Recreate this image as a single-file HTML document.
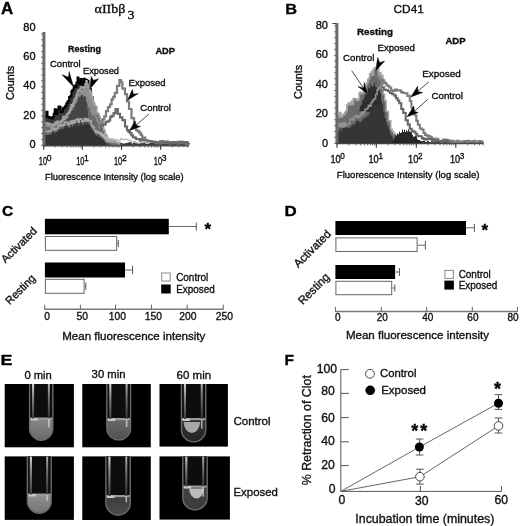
<!DOCTYPE html>
<html><head><meta charset="utf-8"><style>
html,body{margin:0;padding:0;background:#fff;}
svg{display:block;}
</style></head><body>
<svg width="520" height="526" viewBox="0 0 520 526" style="font-family:&quot;Liberation Sans&quot;,sans-serif">
<defs><filter id="gb" x="0" y="0" width="520" height="526" filterUnits="userSpaceOnUse"><feGaussianBlur stdDeviation="0.3"/></filter></defs>
<rect width="520" height="526" fill="#fff"/>
<g filter="url(#gb)">
<text x="1.0" y="13.8" font-size="16" font-weight="bold" fill="#000" stroke="#000" stroke-width="0.35" textLength="12.2" lengthAdjust="spacingAndGlyphs">A</text>
<text x="94.6" y="13.3" font-size="12.6" font-family="&quot;Liberation Serif&quot;, serif" fill="#111" stroke="#111" stroke-width="0.35" textLength="30.8" lengthAdjust="spacingAndGlyphs">αIIbβ</text>
<text x="127.5" y="18.8" font-size="12.6" font-family="&quot;Liberation Serif&quot;, serif" fill="#111" stroke="#111" stroke-width="0.35" textLength="7" lengthAdjust="spacingAndGlyphs">3</text>
<path d="M44.0,142.1 L45.5,142.1 L45.5,143.5 L47.0,143.5 L47.0,143.3 L48.5,143.3 L48.5,142.3 L50.0,142.3 L50.0,142.8 L51.6,142.8 L51.6,142.7 L53.1,142.7 L53.1,143.1 L54.6,143.1 L54.6,143.4 L56.1,143.4 L56.1,142.0 L57.6,142.0 L57.6,141.9 L59.1,141.9 L59.1,143.5 L60.6,143.5 L60.6,142.7 L62.1,142.7 L62.1,143.3 L63.6,143.3 L63.6,141.8 L65.1,141.8 L65.1,142.7 L66.7,142.7 L66.7,143.2 L68.2,143.2 L68.2,142.3 L69.7,142.3 L69.7,143.7 L71.2,143.7 L71.2,143.6 L72.7,143.6 L72.7,141.9 L74.2,141.9 L74.2,141.9 L75.7,141.9 L75.7,142.9 L77.2,142.9 L77.2,143.7 L78.7,143.7 L78.7,142.6 L80.2,142.6 L80.2,142.2 L81.8,142.2 L81.8,142.6 L83.3,142.6 L83.3,141.9 L84.8,141.9 L84.8,142.2 L86.3,142.2 L86.3,142.7 L87.8,142.7 L87.8,142.8 L89.3,142.8 L89.3,142.3 L90.8,142.3 L90.8,142.3 L92.3,142.3 L92.3,142.2 L93.8,142.2 L93.8,142.7 L95.4,142.7 L95.4,142.4 L96.9,142.4 L96.9,141.8 L98.4,141.8 L98.4,143.5 L99.9,143.5 L99.9,142.9 L101.4,142.9 L101.4,143.1 L102.9,143.1 L102.9,142.2 L104.4,142.2 L104.4,143.8 L105.9,143.8 L105.9,143.5 L107.4,143.5 L107.4,142.0 L108.9,142.0 L108.9,142.5 L110.5,142.5 L110.5,143.2 L112.0,143.2 L112.0,143.2 L113.5,143.2 L113.5,143.7 L115.0,143.7 L115.0,142.6 L116.5,142.6 L116.5,143.5 L118.0,143.5 L118.0,143.1 L119.5,143.1 L119.5,142.4 L121.0,142.4 L121.0,143.0 L122.5,143.0 L122.5,143.6 L124.1,143.6 L124.1,143.5 L125.6,143.5 L125.6,142.8 L127.1,142.8 L127.1,143.0 L128.6,143.0 L128.6,141.9 L130.1,141.9 L130.1,142.3 L131.6,142.3 L131.6,143.4 L133.1,143.4 L133.1,142.6 L134.6,142.6 L134.6,142.1 L136.1,142.1 L136.1,142.9 L137.6,142.9 L137.6,143.2 L139.2,143.2 L139.2,143.1 L140.7,143.1 L140.7,142.5 L142.2,142.5 L142.2,142.7 L143.7,142.7 L143.7,142.8 L145.2,142.8 L145.2,143.4 L146.7,143.4 L146.7,142.8 L148.2,142.8 L148.2,142.6 L149.7,142.6 L149.7,142.8 L151.2,142.8 L151.2,141.9 L152.8,141.9 L152.8,141.9 L154.3,141.9 L154.3,143.2 L155.8,143.2 L155.8,143.8 L157.3,143.8 L157.3,143.0 L158.8,143.0 L158.8,142.6 L160.3,142.6 L160.3,142.1 L161.8,142.1 L161.8,142.8 L163.3,142.8 L163.3,143.8 L164.8,143.8 L164.8,143.3 L166.3,143.3 L166.3,142.9 L167.9,142.9 L167.9,143.5 L169.4,143.5 L169.4,142.3 L170.9,142.3 L170.9,142.8 L172.4,142.8 L172.4,143.7 L173.9,143.7 L173.9,143.0 L175.4,143.0 L175.4,142.7 L176.9,142.7 L176.9,142.3 L178.4,142.3 L178.4,142.9 L179.9,142.9 L179.9,143.7 L181.4,143.7 L181.4,141.8 L183.0,141.8 L183.0,143.4 L184.5,143.4 L184.5,143.4 L186.0,143.4 L186.0,143.6 L187.5,143.6 L187.5,143.3 L189.0,143.3 L189.0,142.8 L189.0,145.8 L44.0,145.8 Z" fill="#3a3a3a" stroke="none" stroke-width="1" stroke-linejoin="miter"/>
<path d="M44.5,116.4 L46.3,116.4 L46.3,111.8 L47.5,111.8 L47.5,116.8 L48.6,116.8 L48.6,116.9 L49.6,116.9 L49.6,117.9 L50.6,117.9 L50.6,117.7 L51.6,117.7 L51.6,118.5 L52.6,118.5 L52.6,117.0 L53.7,117.0 L53.7,113.7 L54.7,113.7 L54.7,109.3 L56.2,109.3 L56.2,114.0 L57.4,114.0 L57.4,110.1 L58.5,110.1 L58.5,106.5 L59.6,106.5 L59.6,107.0 L60.7,107.0 L60.7,112.0 L61.9,112.0 L61.9,111.5 L63.0,111.5 L63.0,108.3 L64.2,108.3 L64.2,107.4 L65.3,107.4 L65.3,105.7 L66.4,105.7 L66.4,103.2 L67.6,103.2 L67.6,101.2 L69.1,101.2 L69.1,96.9 L70.2,96.9 L70.2,96.3 L71.4,96.3 L71.4,91.3 L72.5,91.3 L72.5,89.7 L73.7,89.7 L73.7,87.2 L74.5,87.2 L74.5,85.6 L75.5,85.6 L75.5,86.9 L76.5,86.9 L76.5,82.7 L77.5,82.7 L77.5,77.5 L78.5,77.5 L78.5,82.2 L79.5,82.2 L79.5,84.0 L80.6,84.0 L80.6,78.9 L81.6,78.9 L81.6,83.2 L82.6,83.2 L82.6,85.3 L83.7,85.3 L83.7,78.8 L84.7,78.8 L84.7,83.6 L85.9,83.6 L85.9,79.7 L86.8,79.7 L86.8,85.7 L87.6,85.7 L87.6,80.8 L88.5,80.8 L88.5,86.9 L89.7,86.9 L89.7,89.3 L91.0,89.3 L91.0,97.3 L92.7,97.3 L92.7,107.6 L93.8,107.6 L93.8,111.5 L95.0,111.5 L95.0,119.3 L96.2,119.3 L96.2,124.3 L97.3,124.3 L97.3,130.8 L98.4,130.8 L98.4,134.0 L99.6,134.0 L99.6,138.0 L100.7,138.0 L100.7,139.3 L101.8,139.3 L101.8,140.7 L102.8,140.7 L102.8,141.2 L103.9,141.2 L103.9,141.2 L105.0,141.2 L105.0,143.3 L106.0,143.3 L106.0,143.5 L106.0,145.3 L44.5,145.3 Z" fill="#383838" stroke="none" stroke-width="1" stroke-linejoin="miter"/>
<path d="M44.5,116.4 L46.3,116.4 L46.3,111.8 L47.5,111.8 L47.5,116.8 L48.6,116.8 L48.6,116.9 L49.6,116.9 L49.6,117.9 L50.6,117.9 L50.6,117.7 L51.6,117.7 L51.6,118.5 L52.6,118.5 L52.6,117.0 L53.7,117.0 L53.7,113.7 L54.7,113.7 L54.7,109.3 L56.2,109.3 L56.2,114.0 L57.4,114.0 L57.4,110.1 L58.5,110.1 L58.5,106.5 L59.6,106.5 L59.6,107.0 L60.7,107.0 L60.7,112.0 L61.9,112.0 L61.9,111.5 L63.0,111.5 L63.0,108.3 L64.2,108.3 L64.2,107.4 L65.3,107.4 L65.3,105.7 L66.4,105.7 L66.4,103.2 L67.6,103.2 L67.6,101.2 L69.1,101.2 L69.1,96.9 L70.2,96.9 L70.2,96.3 L71.4,96.3 L71.4,91.3 L72.5,91.3 L72.5,89.7 L73.7,89.7 L73.7,87.2 L74.5,87.2 L74.5,85.6 L75.5,85.6 L75.5,86.9 L76.5,86.9 L76.5,82.7 L77.5,82.7 L77.5,77.5 L78.5,77.5 L78.5,82.2 L79.5,82.2 L79.5,84.0 L80.6,84.0 L80.6,78.9 L81.6,78.9 L81.6,83.2 L82.6,83.2 L82.6,85.3 L83.7,85.3 L83.7,78.8 L84.7,78.8 L84.7,83.6 L85.9,83.6 L85.9,79.7 L86.8,79.7 L86.8,85.7 L87.6,85.7 L87.6,80.8 L88.5,80.8 L88.5,86.9 L89.7,86.9 L89.7,89.3 L91.0,89.3 L91.0,97.3 L92.7,97.3 L92.7,107.6 L93.8,107.6 L93.8,111.5 L95.0,111.5 L95.0,119.3 L96.2,119.3 L96.2,124.3 L97.3,124.3 L97.3,130.8 L98.4,130.8 L98.4,134.0 L99.6,134.0 L99.6,138.0 L100.7,138.0 L100.7,139.3 L101.8,139.3 L101.8,140.7 L102.8,140.7 L102.8,141.2 L103.9,141.2 L103.9,141.2 L105.0,141.2 L105.0,143.3 L106.0,143.3 L106.0,143.5" fill="none" stroke="#050505" stroke-width="2.0" stroke-linejoin="miter"/>
<path d="M44.5,122.9 L45.7,122.9 L45.7,123.4 L46.8,123.4 L46.8,122.9 L48.0,122.9 L48.0,124.8 L49.0,124.8 L49.0,123.6 L50.0,123.6 L50.0,124.4 L51.0,124.4 L51.0,124.7 L52.0,124.7 L52.0,124.2 L53.0,124.2 L53.0,125.4 L54.0,125.4 L54.0,124.6 L55.0,124.6 L55.0,122.5 L56.0,122.5 L56.0,123.2 L57.0,123.2 L57.0,121.4 L58.0,121.4 L58.0,121.9 L59.0,121.9 L59.0,122.4 L60.0,122.4 L60.0,122.0 L61.0,122.0 L61.0,121.0 L62.0,121.0 L62.0,120.5 L63.0,120.5 L63.0,116.2 L64.0,116.2 L64.0,119.1 L65.0,119.1 L65.0,117.1 L66.0,117.1 L66.0,115.5 L67.0,115.5 L67.0,113.9 L68.0,113.9 L68.0,113.2 L69.0,113.2 L69.0,111.4 L70.0,111.4 L70.0,109.9 L71.0,109.9 L71.0,104.7 L72.0,104.7 L72.0,106.1 L73.0,106.1 L73.0,102.8 L74.0,102.8 L74.0,99.6 L75.0,99.6 L75.0,98.2 L76.0,98.2 L76.0,95.0 L77.0,95.0 L77.0,92.5 L78.0,92.5 L78.0,90.1 L79.0,90.1 L79.0,91.3 L80.0,91.3 L80.0,88.2 L81.0,88.2 L81.0,86.9 L82.0,86.9 L82.0,86.9 L83.0,86.9 L83.0,87.8 L84.0,87.8 L84.0,87.2 L85.0,87.2 L85.0,84.0 L86.0,84.0 L86.0,80.9 L87.0,80.9 L87.0,84.0 L88.0,84.0 L88.0,86.9 L89.7,86.9 L89.7,90.9 L90.7,90.9 L90.7,93.0 L91.7,93.0 L91.7,96.9 L92.7,96.9 L92.7,100.6 L93.7,100.6 L93.7,103.2 L94.8,103.2 L94.8,105.5 L95.8,105.5 L95.8,106.8 L96.9,106.8 L96.9,113.0 L98.0,113.0 L98.0,113.9 L99.2,113.9 L99.2,116.6 L100.3,116.6 L100.3,119.7 L101.4,119.7 L101.4,124.7 L102.6,124.7 L102.6,127.4 L103.8,127.4 L103.8,130.2 L105.0,130.2 L105.0,134.4 L106.0,134.4 L106.0,135.1 L107.0,135.1 L107.0,137.6 L108.0,137.6 L108.0,138.7 L109.0,138.7 L109.0,139.4 L110.0,139.4 L110.0,139.9 L111.0,139.9 L111.0,139.5 L112.0,139.5 L112.0,142.4 L113.0,142.4 L113.0,141.8 L114.0,141.8 L114.0,140.0 L115.0,140.0 L115.0,141.5 L116.0,141.5 L116.0,142.5 L117.0,142.5 L117.0,142.9 L118.0,142.9 L118.0,142.4 L119.0,142.4 L119.0,143.7 L120.0,143.7 L120.0,143.5 L120.0,145.3 L44.5,145.3 Z" fill="#6a6a6a" stroke="none" stroke-width="1" stroke-linejoin="miter"/>
<path d="M64.0,120.0 L65.3,120.0 L65.3,117.6 L66.7,117.6 L66.7,116.6 L68.0,116.6 L68.0,113.8 L69.3,113.8 L69.3,111.1 L70.7,111.1 L70.7,110.0 L72.0,110.0 L72.0,109.5 L73.5,109.5 L73.5,106.1 L75.0,106.1 L75.0,103.0 L76.5,103.0 L76.5,99.0 L78.0,99.0 L78.0,98.1 L79.5,98.1 L79.5,96.2 L81.0,96.2 L81.0,94.8 L82.5,94.8 L82.5,95.1 L84.0,95.1 L84.0,96.0 L86.0,96.0 L86.0,102.5 L87.0,102.5 L87.0,109.2 L88.0,109.2 L88.0,117.1 L89.0,117.1 L89.0,122.1 L87.7,122.1 L87.7,120.1 L86.4,120.1 L86.4,120.7 L85.1,120.7 L85.1,122.1 L83.8,122.1 L83.8,122.6 L82.5,122.6 L82.5,123.3 L81.2,123.3 L81.2,123.6 L79.9,123.6 L79.9,120.9 L78.6,120.9 L78.6,123.0 L77.3,123.0 L77.3,123.4 L76.0,123.4 L76.0,123.0 Z" fill="#444" stroke="none" stroke-width="1" stroke-linejoin="miter"/>
<path d="M79.0,91.8 L80.0,91.8 L80.0,90.3 L81.0,90.3 L81.0,90.2 L82.0,90.2 L82.0,89.1 L83.0,89.1 L83.0,88.8 L84.0,88.8 L84.0,88.2 L85.0,88.2 L85.0,87.7 L86.0,87.7 L86.0,84.6 L87.0,84.6 L87.0,86.3 L88.0,86.3 L88.0,85.5 L89.0,85.5 L89.0,88.6 L90.0,88.6 L90.0,92.7 L91.0,92.7 L91.0,96.0 L92.0,96.0 L92.0,98.3 L93.0,98.3 L93.0,101.7 L94.0,101.7 L94.0,106.4 L95.0,106.4 L95.0,108.6 L96.0,108.6 L96.0,113.2 L95.0,113.2 L95.0,113.4 L94.0,113.4 L94.0,115.7 L93.0,115.7 L93.0,115.3 L92.0,115.3 L92.0,113.8 L91.0,113.8 L91.0,112.0 L90.0,112.0 L90.0,107.7 L89.0,107.7 L89.0,107.0 L88.0,107.0 L88.0,103.5 L87.0,103.5 L87.0,101.3 L86.0,101.3 L86.0,96.8 L85.0,96.8 L85.0,96.1 L84.0,96.1 L84.0,96.7 L83.0,96.7 L83.0,95.0 Z" fill="#8c8c8c" stroke="none" stroke-width="1" stroke-linejoin="miter"/>
<path d="M44.5,134.9 L45.7,134.9 L45.7,135.0 L47.0,135.0 L47.0,134.9 L48.2,134.9 L48.2,135.2 L49.4,135.2 L49.4,134.0 L50.6,134.0 L50.6,134.4 L51.9,134.4 L51.9,130.5 L53.1,130.5 L53.1,132.0 L54.3,132.0 L54.3,133.4 L55.5,133.4 L55.5,131.8 L56.8,131.8 L56.8,132.3 L58.0,132.3 L58.0,128.7 L59.2,128.7 L59.2,129.7 L60.5,129.7 L60.5,128.3 L61.7,128.3 L61.7,129.0 L63.0,129.0 L63.0,128.6 L64.3,128.6 L64.3,125.9 L65.5,125.9 L65.5,126.2 L66.8,126.2 L66.8,125.9 L68.1,125.9 L68.1,128.2 L69.3,128.2 L69.3,127.3 L70.6,127.3 L70.6,124.6 L71.9,124.6 L71.9,126.9 L73.1,126.9 L73.1,124.0 L74.4,124.0 L74.4,125.7 L75.6,125.7 L75.6,123.4 L76.8,123.4 L76.8,122.6 L78.1,122.6 L78.1,125.8 L79.3,125.8 L79.3,122.8 L80.5,122.8 L80.5,122.6 L81.7,122.6 L81.7,125.3 L82.9,125.3 L82.9,124.6 L84.2,124.6 L84.2,122.0 L85.4,122.0 L85.4,124.3 L86.6,124.3 L86.6,122.4 L88.2,122.4 L88.2,124.4 L89.7,124.4 L89.7,124.0 L91.2,124.0 L91.2,129.3 L92.7,129.3 L92.7,130.6 L94.2,130.6 L94.2,134.0 L95.8,134.0 L95.8,136.0 L97.3,136.0 L97.3,135.1 L98.8,135.1 L98.8,136.8 L100.3,136.8 L100.3,137.6 L101.8,137.6 L101.8,139.1 L103.2,139.1 L103.2,139.9 L104.6,139.9 L104.6,142.0 L106.0,142.0 L106.0,144.4 L107.2,144.4 L107.2,142.4 L108.4,142.4 L108.4,145.5 L109.6,145.5 L109.6,144.6 L110.8,144.6 L110.8,144.8 L112.0,144.8 L112.0,146.0 L112.0,145.3 L44.5,145.3 Z" fill="#333" stroke="none" stroke-width="1" stroke-linejoin="miter"/>
<path d="M44.5,131.4 L45.7,131.4 L45.7,131.5 L47.0,131.5 L47.0,131.4 L48.2,131.4 L48.2,131.7 L49.4,131.7 L49.4,130.5 L50.6,130.5 L50.6,130.9 L51.9,130.9 L51.9,127.0 L53.1,127.0 L53.1,128.5 L54.3,128.5 L54.3,129.9 L55.5,129.9 L55.5,128.3 L56.8,128.3 L56.8,128.8 L58.0,128.8 L58.0,125.2 L59.2,125.2 L59.2,126.2 L60.5,126.2 L60.5,124.8 L61.7,124.8 L61.7,125.5 L63.0,125.5 L63.0,125.1 L64.3,125.1 L64.3,122.4 L65.5,122.4 L65.5,122.7 L66.8,122.7 L66.8,122.4 L68.1,122.4 L68.1,124.7 L69.3,124.7 L69.3,123.8 L70.6,123.8 L70.6,121.1 L71.9,121.1 L71.9,123.4 L73.1,123.4 L73.1,120.5 L74.4,120.5 L74.4,122.2 L75.6,122.2 L75.6,119.9 L76.8,119.9 L76.8,119.1 L78.1,119.1 L78.1,122.3 L79.3,122.3 L79.3,119.3 L80.5,119.3 L80.5,119.1 L81.7,119.1 L81.7,121.8 L82.9,121.8 L82.9,121.1 L84.2,121.1 L84.2,118.5 L85.4,118.5 L85.4,120.8 L86.6,120.8 L86.6,118.9 L88.2,118.9 L88.2,120.9 L89.7,120.9 L89.7,120.5 L91.2,120.5 L91.2,125.8 L92.7,125.8 L92.7,127.1 L94.2,127.1 L94.2,130.5 L95.8,130.5 L95.8,132.5 L97.3,132.5 L97.3,131.6 L98.8,131.6 L98.8,133.3 L100.3,133.3 L100.3,134.1 L101.8,134.1 L101.8,135.6 L103.2,135.6 L103.2,136.4 L104.6,136.4 L104.6,138.5 L106.0,138.5 L106.0,140.9 L107.2,140.9 L107.2,138.9 L108.4,138.9 L108.4,142.0 L109.6,142.0 L109.6,141.1 L110.8,141.1 L110.8,141.3 L112.0,141.3 L112.0,142.5" fill="none" stroke="#a6a6a6" stroke-width="1.6" stroke-linejoin="miter"/>
<path d="M44.5,123.4 L45.6,123.4 L45.6,125.6 L46.7,125.6 L46.7,126.1 L47.8,126.1 L47.8,126.0 L48.9,126.0 L48.9,125.1 L50.0,125.1 L50.0,126.9 L51.0,126.9 L51.0,126.6 L52.0,126.6 L52.0,127.3 L53.0,127.3 L53.0,125.1 L54.0,125.1 L54.0,125.1 L55.0,125.1 L55.0,122.1 L56.0,122.1 L56.0,124.5 L57.0,124.5 L57.0,124.7 L58.0,124.7 L58.0,122.6 L59.0,122.6 L59.0,121.4 L60.0,121.4 L60.0,123.0 L61.0,123.0 L61.0,120.9 L62.0,120.9 L62.0,119.2 L63.0,119.2 L63.0,117.5 L64.0,117.5 L64.0,118.6 L65.0,118.6 L65.0,118.4 L66.0,118.4 L66.0,118.1 L67.0,118.1 L67.0,117.2 L68.0,117.2 L68.0,112.2 L69.0,112.2 L69.0,113.4 L70.0,113.4 L70.0,107.7 L71.0,107.7 L71.0,110.0 L72.0,110.0 L72.0,107.0 L73.0,107.0 L73.0,107.0 L74.0,107.0 L74.0,103.2 L75.0,103.2 L75.0,102.7 L76.0,102.7 L76.0,100.7 L77.0,100.7 L77.0,94.6 L78.0,94.6 L78.0,94.3 L79.0,94.3 L79.0,96.0 L80.0,96.0 L80.0,93.9 L81.0,93.9 L81.0,93.9 L82.0,93.9 L82.0,92.2 L83.0,92.2 L83.0,90.7 L84.0,90.7 L84.0,90.1 L85.0,90.1 L85.0,92.2 L86.0,92.2 L86.0,93.1 L87.0,93.1 L87.0,93.9 L88.0,93.9 L88.0,91.8 L89.0,91.8 L89.0,94.5 L90.0,94.5 L90.0,97.8 L91.0,97.8 L91.0,99.9 L92.0,99.9 L92.0,101.0 L93.0,101.0 L93.0,105.2 L94.0,105.2 L94.0,111.5 L95.0,111.5 L95.0,115.2 L96.0,115.2 L96.0,117.7 L97.0,117.7 L97.0,120.9 L98.0,120.9 L98.0,122.2 L99.0,122.2 L99.0,127.0 L100.0,127.0 L100.0,129.0" fill="none" stroke="#959595" stroke-width="1.2" stroke-linejoin="miter"/>
<path d="M44.5,122.9 L45.7,122.9 L45.7,123.4 L46.8,123.4 L46.8,122.9 L48.0,122.9 L48.0,124.8 L49.0,124.8 L49.0,123.6 L50.0,123.6 L50.0,124.4 L51.0,124.4 L51.0,124.7 L52.0,124.7 L52.0,124.2 L53.0,124.2 L53.0,125.4 L54.0,125.4 L54.0,124.6 L55.0,124.6 L55.0,122.5 L56.0,122.5 L56.0,123.2 L57.0,123.2 L57.0,121.4 L58.0,121.4 L58.0,121.9 L59.0,121.9 L59.0,122.4 L60.0,122.4 L60.0,122.0 L61.0,122.0 L61.0,121.0 L62.0,121.0 L62.0,120.5 L63.0,120.5 L63.0,116.2 L64.0,116.2 L64.0,119.1 L65.0,119.1 L65.0,117.1 L66.0,117.1 L66.0,115.5 L67.0,115.5 L67.0,113.9 L68.0,113.9 L68.0,113.2 L69.0,113.2 L69.0,111.4 L70.0,111.4 L70.0,109.9 L71.0,109.9 L71.0,104.7 L72.0,104.7 L72.0,106.1 L73.0,106.1 L73.0,102.8 L74.0,102.8 L74.0,99.6 L75.0,99.6 L75.0,98.2 L76.0,98.2 L76.0,95.0 L77.0,95.0 L77.0,92.5 L78.0,92.5 L78.0,90.1 L79.0,90.1 L79.0,91.3 L80.0,91.3 L80.0,88.2 L81.0,88.2 L81.0,86.9 L82.0,86.9 L82.0,86.9 L83.0,86.9 L83.0,87.8 L84.0,87.8 L84.0,87.2 L85.0,87.2 L85.0,84.0 L86.0,84.0 L86.0,80.9 L87.0,80.9 L87.0,84.0 L88.0,84.0 L88.0,86.9 L89.7,86.9 L89.7,90.9 L90.7,90.9 L90.7,93.0 L91.7,93.0 L91.7,96.9 L92.7,96.9 L92.7,100.6 L93.7,100.6 L93.7,103.2 L94.8,103.2 L94.8,105.5 L95.8,105.5 L95.8,106.8 L96.9,106.8 L96.9,113.0 L98.0,113.0 L98.0,113.9 L99.2,113.9 L99.2,116.6 L100.3,116.6 L100.3,119.7 L101.4,119.7 L101.4,124.7 L102.6,124.7 L102.6,127.4 L103.8,127.4 L103.8,130.2 L105.0,130.2 L105.0,134.4 L106.0,134.4 L106.0,135.1 L107.0,135.1 L107.0,137.6 L108.0,137.6 L108.0,138.7 L109.0,138.7 L109.0,139.4 L110.0,139.4 L110.0,139.9 L111.0,139.9 L111.0,139.5 L112.0,139.5 L112.0,142.4 L113.0,142.4 L113.0,141.8 L114.0,141.8 L114.0,140.0 L115.0,140.0 L115.0,141.5 L116.0,141.5 L116.0,142.5 L117.0,142.5 L117.0,142.9 L118.0,142.9 L118.0,142.4 L119.0,142.4 L119.0,143.7 L120.0,143.7 L120.0,143.5" fill="none" stroke="#a2a2a2" stroke-width="1.6" stroke-linejoin="miter"/>
<path d="M98.0,124.5 L100.0,124.5 L100.0,124.9 L102.6,124.9 L102.6,119.3 L104.3,119.3 L104.3,116.4 L106.0,116.4 L106.0,111.2 L108.0,111.2 L108.0,107.2 L110.0,107.2 L110.0,104.5 L111.6,104.5 L111.6,99.4 L113.2,99.4 L113.2,96.8 L114.8,96.8 L114.8,92.9 L117.0,92.9 L117.0,85.9 L119.4,85.9 L119.4,80.0 L121.0,80.0 L121.0,82.4 L122.4,82.4 L122.4,88.7 L125.0,88.7 L125.0,94.2 L127.0,94.2 L127.0,101.5 L129.0,101.5 L129.0,109.0 L131.5,109.0 L131.5,118.2 L134.0,118.2 L134.0,124.8 L136.0,124.8 L136.0,130.2 L137.6,130.2 L137.6,131.2 L139.1,131.2 L139.1,132.6 L140.7,132.6 L140.7,134.9 L142.2,134.9 L142.2,137.9 L143.7,137.9 L143.7,137.6 L145.2,137.6 L145.2,140.2 L146.8,140.2 L146.8,140.3 L148.4,140.3 L148.4,141.3 L150.0,141.3 L150.0,141.2 L151.7,141.2 L151.7,142.0 L153.3,142.0 L153.3,141.7 L155.0,141.7 L155.0,142.0 L156.7,142.0 L156.7,142.6 L158.3,142.6 L158.3,142.1 L160.0,142.1 L160.0,141.3 L161.5,141.3 L161.5,141.2 L163.1,141.2 L163.1,143.0 L164.6,143.0 L164.6,142.1 L166.1,142.1 L166.1,141.6 L167.6,141.6 L167.6,143.2 L169.2,143.2 L169.2,142.5 L170.7,142.5 L170.7,142.8 L172.2,142.8 L172.2,143.2 L173.7,143.2 L173.7,142.0 L175.3,142.0 L175.3,142.2 L176.8,142.2 L176.8,143.3 L178.3,143.3 L178.3,141.9 L179.8,141.9 L179.8,143.2 L181.4,143.2 L181.4,141.9 L182.9,141.9 L182.9,143.2 L184.4,143.2 L184.4,143.2 L185.9,143.2 L185.9,143.8 L187.5,143.8 L187.5,143.6 L189.0,143.6 L189.0,143.0" fill="none" stroke="#7c7c7c" stroke-width="2.2" stroke-linejoin="miter"/>
<path d="M99.0,129.9 L101.0,129.9 L101.0,126.0 L102.5,126.0 L102.5,124.4 L104.0,124.4 L104.0,124.7 L105.6,124.7 L105.6,121.9 L107.2,121.9 L107.2,121.7 L108.7,121.7 L108.7,120.5 L110.2,120.5 L110.2,116.9 L111.7,116.9 L111.7,115.8 L113.6,115.8 L113.6,113.1 L115.5,113.1 L115.5,109.1 L117.8,109.1 L117.8,113.8 L120.0,113.8 L120.0,117.4 L122.4,117.4 L122.4,120.1 L125.0,120.1 L125.0,126.5 L127.0,126.5 L127.0,130.2 L128.5,130.2 L128.5,131.9 L130.0,131.9 L130.0,133.1 L131.5,133.1 L131.5,135.4 L133.0,135.4 L133.0,137.3 L134.6,137.3 L134.6,137.6 L136.1,137.6 L136.1,139.0 L138.1,139.0 L138.1,139.1 L140.0,139.1 L140.0,140.7 L142.0,140.7 L142.0,140.2 L143.6,140.2 L143.6,140.9 L145.2,140.9 L145.2,141.9 L146.8,141.9 L146.8,142.4 L148.4,142.4 L148.4,142.0 L150.0,142.0 L150.0,141.7 L151.5,141.7 L151.5,142.1 L153.0,142.1 L153.0,142.0 L154.5,142.0 L154.5,142.1 L156.0,142.1 L156.0,143.2 L157.5,143.2 L157.5,142.0 L159.0,142.0 L159.0,143.4 L160.5,143.4 L160.5,143.4 L162.0,143.4 L162.0,141.8 L163.5,141.8 L163.5,142.4 L165.0,142.4 L165.0,142.7 L166.5,142.7 L166.5,141.8 L168.0,141.8 L168.0,142.6 L169.5,142.6 L169.5,143.6 L171.0,143.6 L171.0,142.0 L172.5,142.0 L172.5,143.0 L174.0,143.0 L174.0,142.1 L175.5,142.1 L175.5,143.0 L177.0,143.0 L177.0,143.6 L178.5,143.6 L178.5,142.3 L180.0,142.3 L180.0,141.9 L181.5,141.9 L181.5,142.1 L183.0,142.1 L183.0,143.0 L184.5,143.0 L184.5,142.0 L186.0,142.0 L186.0,142.1 L187.5,142.1 L187.5,143.0 L189.0,143.0 L189.0,143.0" fill="none" stroke="#6a6a6a" stroke-width="2.2" stroke-linejoin="miter"/>
<path d="M100.0,133.1 L102.0,133.1 L102.0,134.9 L104.0,134.9 L104.0,137.1 L105.5,137.1 L105.5,137.0 L107.0,137.0 L107.0,138.5 L108.5,138.5 L108.5,139.0 L110.0,139.0 L110.0,139.2 L111.5,139.2 L111.5,138.7 L113.0,138.7 L113.0,139.5 L114.5,139.5 L114.5,139.5 L116.0,139.5 L116.0,139.6 L117.5,139.6 L117.5,140.5 L119.0,140.5 L119.0,140.3 L120.5,140.3 L120.5,138.5 L122.0,138.5 L122.0,139.6 L123.5,139.6 L123.5,139.4 L125.0,139.4 L125.0,139.3 L126.5,139.3 L126.5,139.4 L128.0,139.4 L128.0,140.3 L129.5,140.3 L129.5,140.4 L131.0,140.4 L131.0,141.3 L132.5,141.3 L132.5,141.8 L134.0,141.8 L134.0,141.4 L135.5,141.4 L135.5,142.6 L137.0,142.6 L137.0,143.0 L138.5,143.0 L138.5,143.1 L140.0,143.1 L140.0,142.7 L141.7,142.7 L141.7,141.9 L143.3,141.9 L143.3,141.9 L145.0,141.9 L145.0,142.2 L146.7,142.2 L146.7,143.5 L148.3,143.5 L148.3,142.6 L150.0,142.6 L150.0,143.0" fill="none" stroke="#bdbdbd" stroke-width="1.2" stroke-linejoin="miter"/>
<rect x="42.4" y="32" width="3.0" height="114.30000000000001" fill="#6a6a6a"/>
<line x1="41" y1="145.3" x2="44" y2="145.3" stroke="#666" stroke-width="0.9"/>
<line x1="41" y1="139.44" x2="44" y2="139.44" stroke="#666" stroke-width="0.9"/>
<line x1="41" y1="133.58" x2="44" y2="133.58" stroke="#666" stroke-width="0.9"/>
<line x1="41" y1="127.72000000000001" x2="44" y2="127.72000000000001" stroke="#666" stroke-width="0.9"/>
<line x1="41" y1="121.86000000000001" x2="44" y2="121.86000000000001" stroke="#666" stroke-width="0.9"/>
<line x1="41" y1="116.00000000000001" x2="44" y2="116.00000000000001" stroke="#666" stroke-width="0.9"/>
<line x1="41" y1="110.14000000000001" x2="44" y2="110.14000000000001" stroke="#666" stroke-width="0.9"/>
<line x1="41" y1="104.28" x2="44" y2="104.28" stroke="#666" stroke-width="0.9"/>
<line x1="41" y1="98.42000000000002" x2="44" y2="98.42000000000002" stroke="#666" stroke-width="0.9"/>
<line x1="41" y1="92.56" x2="44" y2="92.56" stroke="#666" stroke-width="0.9"/>
<line x1="41" y1="86.70000000000002" x2="44" y2="86.70000000000002" stroke="#666" stroke-width="0.9"/>
<line x1="41" y1="80.84" x2="44" y2="80.84" stroke="#666" stroke-width="0.9"/>
<line x1="41" y1="74.98" x2="44" y2="74.98" stroke="#666" stroke-width="0.9"/>
<line x1="41" y1="69.12" x2="44" y2="69.12" stroke="#666" stroke-width="0.9"/>
<line x1="41" y1="63.260000000000005" x2="44" y2="63.260000000000005" stroke="#666" stroke-width="0.9"/>
<line x1="41" y1="57.400000000000006" x2="44" y2="57.400000000000006" stroke="#666" stroke-width="0.9"/>
<line x1="41" y1="51.540000000000006" x2="44" y2="51.540000000000006" stroke="#666" stroke-width="0.9"/>
<line x1="41" y1="45.68000000000001" x2="44" y2="45.68000000000001" stroke="#666" stroke-width="0.9"/>
<line x1="41" y1="39.82000000000001" x2="44" y2="39.82000000000001" stroke="#666" stroke-width="0.9"/>
<line x1="41" y1="33.96000000000001" x2="44" y2="33.96000000000001" stroke="#666" stroke-width="0.9"/>
<line x1="44" y1="145.8" x2="189" y2="145.8" stroke="#444" stroke-width="1.3"/>
<line x1="43.7" y1="145.3" x2="43.7" y2="149.8" stroke="#333" stroke-width="1.1"/>
<line x1="55.319757832629676" y1="145.3" x2="55.319757832629676" y2="147.5" stroke="#555" stroke-width="0.8"/>
<line x1="62.116880432178974" y1="145.3" x2="62.116880432178974" y2="147.5" stroke="#555" stroke-width="0.8"/>
<line x1="66.93951566525935" y1="145.3" x2="66.93951566525935" y2="147.5" stroke="#555" stroke-width="0.8"/>
<line x1="70.68024216737032" y1="145.3" x2="70.68024216737032" y2="147.5" stroke="#555" stroke-width="0.8"/>
<line x1="73.73663826480865" y1="145.3" x2="73.73663826480865" y2="147.5" stroke="#555" stroke-width="0.8"/>
<line x1="76.3207843445503" y1="145.3" x2="76.3207843445503" y2="147.5" stroke="#555" stroke-width="0.8"/>
<line x1="78.55927349788902" y1="145.3" x2="78.55927349788902" y2="147.5" stroke="#555" stroke-width="0.8"/>
<line x1="80.53376086435793" y1="145.3" x2="80.53376086435793" y2="147.5" stroke="#555" stroke-width="0.8"/>
<line x1="82.3" y1="145.3" x2="82.3" y2="149.8" stroke="#333" stroke-width="1.1"/>
<line x1="93.91975783262967" y1="145.3" x2="93.91975783262967" y2="147.5" stroke="#555" stroke-width="0.8"/>
<line x1="100.71688043217897" y1="145.3" x2="100.71688043217897" y2="147.5" stroke="#555" stroke-width="0.8"/>
<line x1="105.53951566525934" y1="145.3" x2="105.53951566525934" y2="147.5" stroke="#555" stroke-width="0.8"/>
<line x1="109.28024216737032" y1="145.3" x2="109.28024216737032" y2="147.5" stroke="#555" stroke-width="0.8"/>
<line x1="112.33663826480864" y1="145.3" x2="112.33663826480864" y2="147.5" stroke="#555" stroke-width="0.8"/>
<line x1="114.9207843445503" y1="145.3" x2="114.9207843445503" y2="147.5" stroke="#555" stroke-width="0.8"/>
<line x1="117.15927349788902" y1="145.3" x2="117.15927349788902" y2="147.5" stroke="#555" stroke-width="0.8"/>
<line x1="119.13376086435792" y1="145.3" x2="119.13376086435792" y2="147.5" stroke="#555" stroke-width="0.8"/>
<line x1="121.5" y1="145.3" x2="121.5" y2="149.8" stroke="#333" stroke-width="1.1"/>
<line x1="133.11975783262966" y1="145.3" x2="133.11975783262966" y2="147.5" stroke="#555" stroke-width="0.8"/>
<line x1="139.91688043217897" y1="145.3" x2="139.91688043217897" y2="147.5" stroke="#555" stroke-width="0.8"/>
<line x1="144.73951566525935" y1="145.3" x2="144.73951566525935" y2="147.5" stroke="#555" stroke-width="0.8"/>
<line x1="148.48024216737033" y1="145.3" x2="148.48024216737033" y2="147.5" stroke="#555" stroke-width="0.8"/>
<line x1="151.53663826480863" y1="145.3" x2="151.53663826480863" y2="147.5" stroke="#555" stroke-width="0.8"/>
<line x1="154.12078434455032" y1="145.3" x2="154.12078434455032" y2="147.5" stroke="#555" stroke-width="0.8"/>
<line x1="156.359273497889" y1="145.3" x2="156.359273497889" y2="147.5" stroke="#555" stroke-width="0.8"/>
<line x1="158.33376086435794" y1="145.3" x2="158.33376086435794" y2="147.5" stroke="#555" stroke-width="0.8"/>
<line x1="160.7" y1="145.3" x2="160.7" y2="149.8" stroke="#333" stroke-width="1.1"/>
<line x1="172.31975783262965" y1="145.3" x2="172.31975783262965" y2="147.5" stroke="#555" stroke-width="0.8"/>
<line x1="179.11688043217896" y1="145.3" x2="179.11688043217896" y2="147.5" stroke="#555" stroke-width="0.8"/>
<line x1="183.93951566525934" y1="145.3" x2="183.93951566525934" y2="147.5" stroke="#555" stroke-width="0.8"/>
<line x1="187.68024216737032" y1="145.3" x2="187.68024216737032" y2="147.5" stroke="#555" stroke-width="0.8"/>
<text x="35.6" y="30.6" font-size="11" text-anchor="end" fill="#111" stroke="#111" stroke-width="0.35">80</text>
<text x="35.6" y="59.9" font-size="11" text-anchor="end" fill="#111" stroke="#111" stroke-width="0.35">60</text>
<text x="35.6" y="89.2" font-size="11" text-anchor="end" fill="#111" stroke="#111" stroke-width="0.35">40</text>
<text x="35.6" y="118.5" font-size="11" text-anchor="end" fill="#111" stroke="#111" stroke-width="0.35">20</text>
<text x="35.6" y="147.8" font-size="11" text-anchor="end" fill="#111" stroke="#111" stroke-width="0.35">0</text>
<text x="38.8" y="165" font-size="10" fill="#111" stroke="#111" stroke-width="0.35" textLength="8.2" lengthAdjust="spacingAndGlyphs">10</text>
<text x="46.7" y="161.3" font-size="8.5" fill="#111" stroke="#111" stroke-width="0.35">0</text>
<text x="76.2" y="165" font-size="10" fill="#111" stroke="#111" stroke-width="0.35" textLength="8.2" lengthAdjust="spacingAndGlyphs">10</text>
<text x="84.10000000000001" y="161.3" font-size="8.5" fill="#111" stroke="#111" stroke-width="0.35">1</text>
<text x="114" y="165" font-size="10" fill="#111" stroke="#111" stroke-width="0.35" textLength="8.2" lengthAdjust="spacingAndGlyphs">10</text>
<text x="121.9" y="161.3" font-size="8.5" fill="#111" stroke="#111" stroke-width="0.35">2</text>
<text x="153.8" y="165" font-size="10" fill="#111" stroke="#111" stroke-width="0.35" textLength="8.2" lengthAdjust="spacingAndGlyphs">10</text>
<text x="161.7" y="161.3" font-size="8.5" fill="#111" stroke="#111" stroke-width="0.35">3</text>
<text transform="translate(14.2,83) rotate(-90)" font-size="10.8" text-anchor="middle" fill="#111" stroke="#111" stroke-width="0.35">Counts</text>
<text x="68" y="52.2" font-size="9" font-weight="bold" fill="#111" stroke="#111" stroke-width="0.35">Resting</text>
<text x="155.4" y="53.9" font-size="9.3" font-weight="bold" fill="#111" stroke="#111" stroke-width="0.35">ADP</text>
<text x="50" y="66.6" font-size="9.5" fill="#111" stroke="#111" stroke-width="0.35">Control</text>
<text x="83" y="74.2" font-size="9.25" fill="#111" stroke="#111" stroke-width="0.35">Exposed</text>
<text x="128.6" y="85.8" font-size="9.5" fill="#111" stroke="#111" stroke-width="0.35">Exposed</text>
<text x="140.3" y="111" font-size="9.5" fill="#111" stroke="#111" stroke-width="0.35">Control</text>
<text x="45.0" y="180.3" font-size="9.3" fill="#111" stroke="#111" stroke-width="0.35">Fluorescence Intensity (log scale)</text>
<path d="M73.5,86.8 L62,74.8 L68.6,77.2 L69.1,71.5 Z" fill="#000" stroke="#000" stroke-width="0.5" stroke-linejoin="round"/>
<path d="M89.9,89 L91.2,76.4 L93.4,80.4 L98.5,78.8 Z" fill="#000" stroke="#000" stroke-width="0.5" stroke-linejoin="round"/>
<path d="M127.6,100.2 L132.4,89.6 L133.3,94.2 L138.2,93.6 Z" fill="#000" stroke="#000" stroke-width="0.5" stroke-linejoin="round"/>
<line x1="149" y1="114" x2="135.5" y2="125.6" stroke="#222" stroke-width="0.8"/>
<path d="M129.5,130.6 L135.2,121 L135.9,125.4 L140.5,126.4 Z" fill="#000" stroke="#000" stroke-width="0.5" stroke-linejoin="round"/>
<text x="285.2" y="13.8" font-size="15.5" font-weight="bold" fill="#000" stroke="#000" stroke-width="0.35" textLength="11.8" lengthAdjust="spacingAndGlyphs">B</text>
<text x="393.6" y="13.1" font-size="11.8" fill="#111" stroke="#111" stroke-width="0.35">CD41</text>
<path d="M337.0,140.9 L339.0,140.9 L339.0,141.1 L341.0,141.1 L341.0,141.7 L343.0,141.7 L343.0,141.0 L345.0,141.0 L345.0,141.0 L347.0,141.0 L347.0,141.2 L349.0,141.2 L349.0,140.5 L351.0,140.5 L351.0,141.1 L353.0,141.1 L353.0,141.3 L355.0,141.3 L355.0,141.5 L357.0,141.5 L357.0,140.4 L359.0,140.4 L359.0,140.8 L361.0,140.8 L361.0,140.4 L363.0,140.4 L363.0,141.6 L365.0,141.6 L365.0,141.4 L367.0,141.4 L367.0,140.4 L369.0,140.4 L369.0,141.9 L371.0,141.9 L371.0,141.9 L373.0,141.9 L373.0,141.4 L375.0,141.4 L375.0,141.3 L377.0,141.3 L377.0,140.6 L379.0,140.6 L379.0,140.4 L381.0,140.4 L381.0,141.2 L383.0,141.2 L383.0,140.5 L385.0,140.5 L385.0,140.7 L387.0,140.7 L387.0,140.8 L389.0,140.8 L389.0,140.4 L391.0,140.4 L391.0,141.1 L393.0,141.1 L393.0,141.1 L395.0,141.1 L395.0,141.7 L397.0,141.7 L397.0,141.2 L399.0,141.2 L399.0,141.4 L401.0,141.4 L401.0,141.2 L403.0,141.2 L403.0,141.5 L405.0,141.5 L405.0,141.2 L407.0,141.2 L407.0,140.9 L409.0,140.9 L409.0,142.0 L411.0,142.0 L411.0,142.0 L413.0,142.0 L413.0,141.8 L415.0,141.8 L415.0,141.6 L417.0,141.6 L417.0,141.0 L419.0,141.0 L419.0,140.8 L421.0,140.8 L421.0,141.0 L423.0,141.0 L423.0,140.6 L425.0,140.6 L425.0,141.7 L427.0,141.7 L427.0,141.1 L429.0,141.1 L429.0,141.9 L431.0,141.9 L431.0,141.1 L433.0,141.1 L433.0,142.1 L435.0,142.1 L435.0,141.9 L437.0,141.9 L437.0,140.5 L439.0,140.5 L439.0,140.9 L441.0,140.9 L441.0,142.0 L443.0,142.0 L443.0,141.3 L445.0,141.3 L445.0,142.1 L447.0,142.1 L447.0,141.2 L449.0,141.2 L449.0,140.7 L451.0,140.7 L451.0,141.6 L453.0,141.6 L453.0,141.8 L455.0,141.8 L455.0,141.0 L457.0,141.0 L457.0,140.8 L459.0,140.8 L459.0,141.1 L461.0,141.1 L461.0,142.2 L463.0,142.2 L463.0,141.8 L465.0,141.8 L465.0,140.8 L467.0,140.8 L467.0,141.0 L469.0,141.0 L469.0,140.8 L471.0,140.8 L471.0,140.8 L473.0,140.8 L473.0,141.9 L475.0,141.9 L475.0,141.0 L477.0,141.0 L477.0,141.6 L479.0,141.6 L479.0,141.4 L481.0,141.4 L481.0,141.0 L483.0,141.0 L483.0,141.5 L483.0,143.7 L337.0,143.7 Z" fill="#3a3a3a" stroke="none" stroke-width="1" stroke-linejoin="miter"/>
<path d="M337.5,118.2 L338.5,118.2 L338.5,116.1 L339.5,116.1 L339.5,112.6 L340.6,112.6 L340.6,117.1 L341.6,117.1 L341.6,116.3 L342.6,116.3 L342.6,115.0 L343.6,115.0 L343.6,114.5 L344.7,114.5 L344.7,112.6 L345.9,112.6 L345.9,110.9 L347.0,110.9 L347.0,105.1 L348.1,105.1 L348.1,103.3 L349.1,103.3 L349.1,103.1 L350.1,103.1 L350.1,104.6 L351.2,104.6 L351.2,101.4 L352.2,101.4 L352.2,104.3 L353.3,104.3 L353.3,98.7 L354.3,98.7 L354.3,99.0 L355.6,99.0 L355.6,99.4 L357.0,99.4 L357.0,100.5 L358.1,100.5 L358.1,99.4 L359.3,99.4 L359.3,92.6 L360.4,92.6 L360.4,93.0 L361.4,93.0 L361.4,93.6 L362.4,93.6 L362.4,93.0 L363.4,93.0 L363.4,90.0 L364.7,90.0 L364.7,87.8 L366.0,87.8 L366.0,84.4 L367.0,84.4 L367.0,82.4 L368.0,82.4 L368.0,79.4 L368.9,79.4 L368.9,78.3 L369.8,78.3 L369.8,73.8 L370.7,73.8 L370.7,73.4 L371.6,73.4 L371.6,71.3 L372.5,71.3 L372.5,75.0 L373.5,75.0 L373.5,69.2 L374.6,69.2 L374.6,67.6 L375.6,67.6 L375.6,69.1 L376.6,69.1 L376.6,69.9 L377.6,69.9 L377.6,68.2 L378.6,68.2 L378.6,75.0 L379.6,75.0 L379.6,72.6 L380.7,72.6 L380.7,77.7 L381.7,77.7 L381.7,75.4 L382.7,75.4 L382.7,79.7 L383.7,79.7 L383.7,80.2 L384.7,80.2 L384.7,81.7 L381.7,88.6 L383.2,88.6 L383.2,94.3 L384.7,94.3 L384.7,100.5 L386.2,100.5 L386.2,111.5 L388.5,111.5 L388.5,120.8 L390.8,120.8 L390.8,129.3 L392.3,129.3 L392.3,131.8 L393.9,131.8 L393.9,133.7 L395.4,133.7 L395.4,135.1 L396.9,135.1 L396.9,135.7 L398.5,135.7 L398.5,137.5 L400.0,137.5 L400.0,140.0 L401.2,140.0 L401.2,138.5 L402.5,138.5 L402.5,139.3 L403.8,139.3 L403.8,140.8 L405.0,140.8 L405.0,140.1 L406.2,140.1 L406.2,140.0 L407.5,140.0 L407.5,140.5 L408.8,140.5 L408.8,142.0 L410.0,142.0 L410.0,141.5 L410.0,143.2 L337.5,143.2 Z" fill="#6a6a6a" stroke="none" stroke-width="1" stroke-linejoin="miter"/>
<path d="M358.0,111.3 L359.0,111.3 L359.0,109.6 L360.0,109.6 L360.0,106.1 L361.0,106.1 L361.0,104.6 L362.0,104.6 L362.0,100.6 L363.0,100.6 L363.0,99.7 L364.0,99.7 L364.0,97.1 L365.0,97.1 L365.0,94.0 L366.0,94.0 L366.0,95.0 L367.0,95.0 L367.0,92.8 L368.0,92.8 L368.0,87.3 L369.0,87.3 L369.0,88.6 L370.0,88.6 L370.0,84.6 L371.0,84.6 L371.0,86.6 L372.0,86.6 L372.0,86.6 L373.0,86.6 L373.0,85.7 L374.0,85.7 L374.0,82.8 L375.0,82.8 L375.0,86.8 L376.0,86.8 L376.0,87.4 L377.0,87.4 L377.0,90.1 L378.0,90.1 L378.0,91.2 L379.0,91.2 L379.0,90.1 L380.0,90.1 L380.0,93.3 L381.0,93.3 L381.0,100.8 L382.0,100.8 L382.0,107.7 L381.1,107.7 L381.1,108.1 L380.2,108.1 L380.2,106.9 L379.3,106.9 L379.3,109.5 L378.4,109.5 L378.4,109.4 L377.5,109.4 L377.5,109.9 L376.5,109.9 L376.5,109.6 L375.6,109.6 L375.6,110.7 L374.7,110.7 L374.7,108.1 L373.8,108.1 L373.8,109.5 L372.9,109.5 L372.9,109.7 L372.0,109.7 L372.0,112.0 Z" fill="#2e2e2e" stroke="none" stroke-width="1" stroke-linejoin="miter"/>
<path d="M337.5,131.2 L338.4,131.2 L338.4,132.1 L339.4,132.1 L339.4,127.8 L340.3,127.8 L340.3,128.5 L341.2,128.5 L341.2,131.0 L342.2,131.0 L342.2,126.5 L343.1,126.5 L343.1,127.0 L344.1,127.0 L344.1,127.9 L345.0,127.9 L345.0,127.6 L346.0,127.6 L346.0,127.1 L347.1,127.1 L347.1,128.3 L348.1,128.3 L348.1,128.0 L349.1,128.0 L349.1,127.3 L350.2,127.3 L350.2,127.4 L351.2,127.4 L351.2,125.1 L352.1,125.1 L352.1,124.0 L353.1,124.0 L353.1,125.9 L354.1,125.9 L354.1,124.1 L355.0,124.1 L355.0,123.8 L355.9,123.8 L355.9,120.4 L356.9,120.4 L356.9,121.1 L357.9,121.1 L357.9,120.8 L358.8,120.8 L358.8,122.0 L359.8,122.0 L359.8,122.4 L360.7,122.4 L360.7,121.2 L361.6,121.2 L361.6,120.4 L362.6,120.4 L362.6,118.9 L363.6,118.9 L363.6,118.5 L364.5,118.5 L364.5,117.2 L365.4,117.2 L365.4,117.9 L366.4,117.9 L366.4,115.7 L367.4,115.7 L367.4,116.6 L368.4,116.6 L368.4,114.4 L369.4,114.4 L369.4,112.3 L370.5,112.3 L370.5,112.1 L371.5,112.1 L371.5,109.1 L372.5,109.1 L372.5,105.8 L373.5,105.8 L373.5,106.0 L374.6,106.0 L374.6,106.7 L375.6,106.7 L375.6,104.7 L376.6,104.7 L376.6,105.1 L377.6,105.1 L377.6,105.8 L378.6,105.8 L378.6,104.2 L379.6,104.2 L379.6,103.8 L380.7,103.8 L380.7,103.7 L381.7,103.7 L381.7,103.5 L383.2,103.5 L383.2,111.4 L384.7,111.4 L384.7,118.1 L385.9,118.1 L385.9,122.2 L387.0,122.2 L387.0,125.5 L388.5,125.5 L388.5,128.4 L389.6,128.4 L389.6,133.5 L390.8,133.5 L390.8,135.5 L391.9,135.5 L391.9,136.8 L392.9,136.8 L392.9,141.0 L394.0,141.0 L394.0,141.5 L394.0,143.2 L337.5,143.2 Z" fill="#343434" stroke="none" stroke-width="1" stroke-linejoin="miter"/>
<path d="M337.5,127.9 L338.8,127.9 L338.8,123.5 L340.0,123.5 L340.0,126.4 L341.2,126.4 L341.2,123.6 L342.5,123.6 L342.5,127.0 L343.8,127.0 L343.8,122.5 L345.0,122.5 L345.0,126.1 L346.2,126.1 L346.2,124.3 L347.5,124.3 L347.5,124.1 L348.7,124.1 L348.7,123.8 L350.0,123.8 L350.0,119.6 L351.2,119.6 L351.2,119.1 L352.5,119.1 L352.5,119.9 L353.7,119.9 L353.7,117.3 L355.0,117.3 L355.0,116.5 L356.3,116.5 L356.3,115.5 L357.5,115.5 L357.5,117.5 L358.8,117.5 L358.8,116.8 L360.0,116.8 L360.0,115.6 L361.2,115.6 L361.2,112.2 L362.5,112.2 L362.5,114.4 L363.7,114.4 L363.7,111.7 L364.9,111.7 L364.9,109.5 L366.0,109.5 L366.0,109.3 L367.2,109.3 L367.2,108.0 L368.4,108.0 L368.4,105.3 L369.5,105.3 L369.5,106.3 L371.0,106.3 L371.0,102.4 L372.5,102.4 L372.5,100.3 L374.1,100.3 L374.1,98.8 L375.6,98.8 L375.6,94.5 L377.1,94.5 L377.1,89.7 L378.6,89.7 L378.6,87.9 L380.1,87.9 L380.1,86.2 L381.7,86.2 L381.7,81.7" fill="none" stroke="#929292" stroke-width="1.5" stroke-linejoin="miter"/>
<path d="M381.7,88.6 L383.2,88.6 L383.2,94.3 L384.7,94.3 L384.7,100.5 L386.2,100.5 L386.2,111.5 L388.5,111.5 L388.5,120.8 L390.8,120.8 L390.8,129.3 L392.3,129.3 L392.3,131.8 L393.9,131.8 L393.9,133.7 L395.4,133.7 L395.4,135.1 L396.9,135.1 L396.9,135.7 L398.5,135.7 L398.5,137.5 L400.0,137.5 L400.0,140.0 L401.2,140.0 L401.2,138.5 L402.5,138.5 L402.5,139.3 L403.8,139.3 L403.8,140.8 L405.0,140.8 L405.0,140.1 L406.2,140.1 L406.2,140.0 L407.5,140.0 L407.5,140.5 L408.8,140.5 L408.8,142.0 L410.0,142.0 L410.0,141.5" fill="none" stroke="#a8a8a8" stroke-width="1.4" stroke-linejoin="miter"/>
<path d="M337.5,118.2 L338.5,118.2 L338.5,116.1 L339.5,116.1 L339.5,112.6 L340.6,112.6 L340.6,117.1 L341.6,117.1 L341.6,116.3 L342.6,116.3 L342.6,115.0 L343.6,115.0 L343.6,114.5 L344.7,114.5 L344.7,112.6 L345.9,112.6 L345.9,110.9 L347.0,110.9 L347.0,105.1 L348.1,105.1 L348.1,103.3 L349.1,103.3 L349.1,103.1 L350.1,103.1 L350.1,104.6 L351.2,104.6 L351.2,101.4 L352.2,101.4 L352.2,104.3 L353.3,104.3 L353.3,98.7 L354.3,98.7 L354.3,99.0 L355.6,99.0 L355.6,99.4 L357.0,99.4 L357.0,100.5 L358.1,100.5 L358.1,99.4 L359.3,99.4 L359.3,92.6 L360.4,92.6 L360.4,93.0 L361.4,93.0 L361.4,93.6 L362.4,93.6 L362.4,93.0 L363.4,93.0 L363.4,90.0 L364.7,90.0 L364.7,87.8 L366.0,87.8 L366.0,84.4 L367.0,84.4 L367.0,82.4 L368.0,82.4 L368.0,79.4 L368.9,79.4 L368.9,78.3 L369.8,78.3 L369.8,73.8 L370.7,73.8 L370.7,73.4 L371.6,73.4 L371.6,71.3 L372.5,71.3 L372.5,75.0 L373.5,75.0 L373.5,69.2 L374.6,69.2 L374.6,67.6 L375.6,67.6 L375.6,69.1 L376.6,69.1 L376.6,69.9 L377.6,69.9 L377.6,68.2 L378.6,68.2 L378.6,75.0 L379.6,75.0 L379.6,72.6 L380.7,72.6 L380.7,77.7 L381.7,77.7 L381.7,75.4 L382.7,75.4 L382.7,79.7 L383.7,79.7 L383.7,80.2 L384.7,80.2 L384.7,81.7" fill="none" stroke="#a3a3a3" stroke-width="1.8" stroke-linejoin="miter"/>
<path d="M376.6,76.2 L378.3,76.2 L378.3,78.3 L380.0,78.3 L380.0,80.0 L381.6,80.0 L381.6,79.8 L383.1,79.8 L383.1,82.1 L384.7,82.1 L384.7,83.1 L386.4,83.1 L386.4,85.2 L388.0,85.2 L388.0,86.1 L389.6,86.1 L389.6,87.8 L391.2,87.8 L391.2,90.4 L393.1,90.4 L393.1,90.9 L395.0,90.9 L395.0,89.5 L397.1,89.5 L397.1,90.4 L399.3,90.4 L399.3,90.3 L401.1,90.3 L401.1,92.1 L403.0,92.1 L403.0,93.0 L405.2,93.0 L405.2,93.2 L407.4,93.2 L407.4,95.9 L409.8,95.9 L409.8,101.0 L411.4,101.0 L411.4,107.6 L413.0,107.6 L413.0,112.6 L414.6,112.6 L414.6,115.3 L416.3,115.3 L416.3,120.9 L417.9,120.9 L417.9,124.8 L419.8,124.8 L419.8,128.4 L421.6,128.4 L421.6,129.5 L423.5,129.5 L423.5,132.9 L425.1,132.9 L425.1,134.9 L426.8,134.9 L426.8,135.6 L428.4,135.6 L428.4,136.1 L430.0,136.1 L430.0,136.8 L431.7,136.8 L431.7,139.1 L433.3,139.1 L433.3,138.6 L435.0,138.6 L435.0,140.2 L436.7,140.2 L436.7,138.8 L438.3,138.8 L438.3,140.7 L440.0,140.7 L440.0,141.2 L441.5,141.2 L441.5,141.5 L443.1,141.5 L443.1,139.6 L444.6,139.6 L444.6,140.4 L446.2,140.4 L446.2,139.8 L447.7,139.8 L447.7,141.4 L449.2,141.4 L449.2,140.6 L450.8,140.6 L450.8,142.0 L452.3,142.0 L452.3,140.8 L453.8,140.8 L453.8,141.8 L455.4,141.8 L455.4,142.1 L456.9,142.1 L456.9,140.8 L458.5,140.8 L458.5,141.5 L460.0,141.5 L460.0,142.5 L461.5,142.5 L461.5,141.6 L463.1,141.6 L463.1,141.2 L464.6,141.2 L464.6,141.0 L466.1,141.0 L466.1,142.1 L467.7,142.1 L467.7,140.8 L469.2,140.8 L469.2,141.7 L470.7,141.7 L470.7,141.6 L472.3,141.6 L472.3,141.6 L473.8,141.6 L473.8,140.7 L475.3,140.7 L475.3,141.8 L476.9,141.8 L476.9,142.4 L478.4,142.4 L478.4,141.1 L479.9,141.1 L479.9,141.1 L481.5,141.1 L481.5,142.4 L483.0,142.4 L483.0,141.5" fill="none" stroke="#7e7e7e" stroke-width="2.1" stroke-linejoin="miter"/>
<path d="M382.0,87.3 L384.1,87.3 L384.1,89.7 L386.3,89.7 L386.3,90.3 L388.1,90.3 L388.1,91.2 L390.0,91.2 L390.0,93.0 L392.2,93.0 L392.2,94.3 L394.4,94.3 L394.4,95.6 L396.0,95.6 L396.0,98.2 L397.7,98.2 L397.7,100.5 L399.3,100.5 L399.3,103.2 L401.3,103.2 L401.3,109.0 L403.3,109.0 L403.3,113.0 L405.7,113.0 L405.7,120.3 L407.8,120.3 L407.8,124.6 L409.8,124.6 L409.8,128.8 L411.7,128.8 L411.7,131.1 L413.6,131.1 L413.6,131.7 L415.5,131.7 L415.5,133.8 L417.1,133.8 L417.1,135.7 L418.8,135.7 L418.8,136.2 L420.4,136.2 L420.4,136.2 L422.0,136.2 L422.0,138.1 L423.7,138.1 L423.7,139.0 L425.3,139.0 L425.3,139.4 L427.0,139.4 L427.0,138.5 L428.7,138.5 L428.7,139.1 L430.3,139.1 L430.3,138.9 L432.0,138.9 L432.0,141.5 L433.5,141.5 L433.5,140.0 L435.0,140.0 L435.0,141.2 L436.5,141.2 L436.5,140.8 L438.0,140.8 L438.0,141.0 L439.5,141.0 L439.5,141.0 L441.0,141.0 L441.0,141.7 L442.5,141.7 L442.5,141.3 L444.0,141.3 L444.0,140.7 L445.5,140.7 L445.5,140.4 L447.0,140.4 L447.0,141.3 L448.5,141.3 L448.5,142.3 L450.0,142.3 L450.0,141.5" fill="none" stroke="#666" stroke-width="2.1" stroke-linejoin="miter"/>
<path d="M392.0,141.8 L393.0,141.8 L393.0,140.0 L394.0,140.0 L394.0,138.3 L395.0,138.3 L395.0,135.2 L396.0,135.2 L396.0,135.7 L397.0,135.7 L397.0,133.4 L398.0,133.4 L398.0,134.2 L399.0,134.2 L399.0,131.8 L400.0,131.8 L400.0,132.9 L401.0,132.9 L401.0,132.4 L402.0,132.4 L402.0,129.6 L403.0,129.6 L403.0,132.1 L404.0,132.1 L404.0,129.4 L405.0,129.4 L405.0,131.9 L406.0,131.9 L406.0,130.2 L407.0,130.2 L407.0,131.4 L408.0,131.4 L408.0,129.5 L409.0,129.5 L409.0,131.6 L410.0,131.6 L410.0,132.1 L411.0,132.1 L411.0,132.2 L412.0,132.2 L412.0,135.0 L413.0,135.0 L413.0,136.7 L414.0,136.7 L414.0,136.5 L415.0,136.5 L415.0,135.4 L416.0,135.4 L416.0,136.6 L417.0,136.6 L417.0,139.2 L418.0,139.2 L418.0,140.1 L419.0,140.1 L419.0,140.0 L420.0,140.0 L420.0,141.8 L421.0,141.8 L421.0,142.0 L421.0,143.2 L392.0,143.2 Z" fill="#262626" stroke="none" stroke-width="1" stroke-linejoin="miter"/>
<rect x="335.4" y="23" width="3.0" height="121.19999999999999" fill="#6a6a6a"/>
<line x1="334" y1="143.2" x2="337" y2="143.2" stroke="#666" stroke-width="0.9"/>
<line x1="334" y1="137.33999999999997" x2="337" y2="137.33999999999997" stroke="#666" stroke-width="0.9"/>
<line x1="334" y1="131.48" x2="337" y2="131.48" stroke="#666" stroke-width="0.9"/>
<line x1="334" y1="125.61999999999999" x2="337" y2="125.61999999999999" stroke="#666" stroke-width="0.9"/>
<line x1="334" y1="119.75999999999999" x2="337" y2="119.75999999999999" stroke="#666" stroke-width="0.9"/>
<line x1="334" y1="113.89999999999999" x2="337" y2="113.89999999999999" stroke="#666" stroke-width="0.9"/>
<line x1="334" y1="108.03999999999999" x2="337" y2="108.03999999999999" stroke="#666" stroke-width="0.9"/>
<line x1="334" y1="102.17999999999998" x2="337" y2="102.17999999999998" stroke="#666" stroke-width="0.9"/>
<line x1="334" y1="96.32" x2="337" y2="96.32" stroke="#666" stroke-width="0.9"/>
<line x1="334" y1="90.45999999999998" x2="337" y2="90.45999999999998" stroke="#666" stroke-width="0.9"/>
<line x1="334" y1="84.6" x2="337" y2="84.6" stroke="#666" stroke-width="0.9"/>
<line x1="334" y1="78.73999999999998" x2="337" y2="78.73999999999998" stroke="#666" stroke-width="0.9"/>
<line x1="334" y1="72.87999999999998" x2="337" y2="72.87999999999998" stroke="#666" stroke-width="0.9"/>
<line x1="334" y1="67.01999999999998" x2="337" y2="67.01999999999998" stroke="#666" stroke-width="0.9"/>
<line x1="334" y1="61.15999999999998" x2="337" y2="61.15999999999998" stroke="#666" stroke-width="0.9"/>
<line x1="334" y1="55.29999999999998" x2="337" y2="55.29999999999998" stroke="#666" stroke-width="0.9"/>
<line x1="334" y1="49.43999999999998" x2="337" y2="49.43999999999998" stroke="#666" stroke-width="0.9"/>
<line x1="334" y1="43.579999999999984" x2="337" y2="43.579999999999984" stroke="#666" stroke-width="0.9"/>
<line x1="334" y1="37.719999999999985" x2="337" y2="37.719999999999985" stroke="#666" stroke-width="0.9"/>
<line x1="334" y1="31.859999999999985" x2="337" y2="31.859999999999985" stroke="#666" stroke-width="0.9"/>
<line x1="334" y1="25.999999999999986" x2="337" y2="25.999999999999986" stroke="#666" stroke-width="0.9"/>
<line x1="337" y1="143.7" x2="483.5" y2="143.7" stroke="#444" stroke-width="1.3"/>
<line x1="337" y1="143.2" x2="337" y2="147.7" stroke="#333" stroke-width="1.1"/>
<line x1="348.8304788295945" y1="143.2" x2="348.8304788295945" y2="145.39999999999998" stroke="#555" stroke-width="0.8"/>
<line x1="355.7508653104827" y1="143.2" x2="355.7508653104827" y2="145.39999999999998" stroke="#555" stroke-width="0.8"/>
<line x1="360.6609576591889" y1="143.2" x2="360.6609576591889" y2="145.39999999999998" stroke="#555" stroke-width="0.8"/>
<line x1="364.4695211704055" y1="143.2" x2="364.4695211704055" y2="145.39999999999998" stroke="#555" stroke-width="0.8"/>
<line x1="367.5813441400772" y1="143.2" x2="367.5813441400772" y2="145.39999999999998" stroke="#555" stroke-width="0.8"/>
<line x1="370.2123529725603" y1="143.2" x2="370.2123529725603" y2="145.39999999999998" stroke="#555" stroke-width="0.8"/>
<line x1="372.4914364887834" y1="143.2" x2="372.4914364887834" y2="145.39999999999998" stroke="#555" stroke-width="0.8"/>
<line x1="374.5017306209655" y1="143.2" x2="374.5017306209655" y2="145.39999999999998" stroke="#555" stroke-width="0.8"/>
<line x1="376.3" y1="143.2" x2="376.3" y2="147.7" stroke="#333" stroke-width="1.1"/>
<line x1="388.1304788295945" y1="143.2" x2="388.1304788295945" y2="145.39999999999998" stroke="#555" stroke-width="0.8"/>
<line x1="395.0508653104828" y1="143.2" x2="395.0508653104828" y2="145.39999999999998" stroke="#555" stroke-width="0.8"/>
<line x1="399.9609576591889" y1="143.2" x2="399.9609576591889" y2="145.39999999999998" stroke="#555" stroke-width="0.8"/>
<line x1="403.76952117040554" y1="143.2" x2="403.76952117040554" y2="145.39999999999998" stroke="#555" stroke-width="0.8"/>
<line x1="406.8813441400772" y1="143.2" x2="406.8813441400772" y2="145.39999999999998" stroke="#555" stroke-width="0.8"/>
<line x1="409.51235297256034" y1="143.2" x2="409.51235297256034" y2="145.39999999999998" stroke="#555" stroke-width="0.8"/>
<line x1="411.7914364887834" y1="143.2" x2="411.7914364887834" y2="145.39999999999998" stroke="#555" stroke-width="0.8"/>
<line x1="413.8017306209655" y1="143.2" x2="413.8017306209655" y2="145.39999999999998" stroke="#555" stroke-width="0.8"/>
<line x1="416.3" y1="143.2" x2="416.3" y2="147.7" stroke="#333" stroke-width="1.1"/>
<line x1="428.1304788295945" y1="143.2" x2="428.1304788295945" y2="145.39999999999998" stroke="#555" stroke-width="0.8"/>
<line x1="435.0508653104828" y1="143.2" x2="435.0508653104828" y2="145.39999999999998" stroke="#555" stroke-width="0.8"/>
<line x1="439.9609576591889" y1="143.2" x2="439.9609576591889" y2="145.39999999999998" stroke="#555" stroke-width="0.8"/>
<line x1="443.76952117040554" y1="143.2" x2="443.76952117040554" y2="145.39999999999998" stroke="#555" stroke-width="0.8"/>
<line x1="446.8813441400772" y1="143.2" x2="446.8813441400772" y2="145.39999999999998" stroke="#555" stroke-width="0.8"/>
<line x1="449.51235297256034" y1="143.2" x2="449.51235297256034" y2="145.39999999999998" stroke="#555" stroke-width="0.8"/>
<line x1="451.7914364887834" y1="143.2" x2="451.7914364887834" y2="145.39999999999998" stroke="#555" stroke-width="0.8"/>
<line x1="453.8017306209655" y1="143.2" x2="453.8017306209655" y2="145.39999999999998" stroke="#555" stroke-width="0.8"/>
<line x1="455.8" y1="143.2" x2="455.8" y2="147.7" stroke="#333" stroke-width="1.1"/>
<line x1="467.6304788295945" y1="143.2" x2="467.6304788295945" y2="145.39999999999998" stroke="#555" stroke-width="0.8"/>
<line x1="474.5508653104828" y1="143.2" x2="474.5508653104828" y2="145.39999999999998" stroke="#555" stroke-width="0.8"/>
<line x1="479.4609576591889" y1="143.2" x2="479.4609576591889" y2="145.39999999999998" stroke="#555" stroke-width="0.8"/>
<line x1="483.26952117040554" y1="143.2" x2="483.26952117040554" y2="145.39999999999998" stroke="#555" stroke-width="0.8"/>
<text x="328" y="28.6" font-size="11" text-anchor="end" fill="#111" stroke="#111" stroke-width="0.35">80</text>
<text x="328" y="58.1" font-size="11" text-anchor="end" fill="#111" stroke="#111" stroke-width="0.35">60</text>
<text x="328" y="87.7" font-size="11" text-anchor="end" fill="#111" stroke="#111" stroke-width="0.35">40</text>
<text x="328" y="117.3" font-size="11" text-anchor="end" fill="#111" stroke="#111" stroke-width="0.35">20</text>
<text x="328" y="146.9" font-size="11" text-anchor="end" fill="#111" stroke="#111" stroke-width="0.35">0</text>
<text x="330.4" y="162.7" font-size="10" fill="#111" stroke="#111" stroke-width="0.35" textLength="10.2" lengthAdjust="spacingAndGlyphs">10</text>
<text x="340.29999999999995" y="159.1" font-size="8.2" fill="#111" stroke="#111" stroke-width="0.35">0</text>
<text x="368.5" y="162.7" font-size="10" fill="#111" stroke="#111" stroke-width="0.35" textLength="10.2" lengthAdjust="spacingAndGlyphs">10</text>
<text x="378.4" y="159.1" font-size="8.2" fill="#111" stroke="#111" stroke-width="0.35">1</text>
<text x="408.1" y="162.7" font-size="10" fill="#111" stroke="#111" stroke-width="0.35" textLength="10.2" lengthAdjust="spacingAndGlyphs">10</text>
<text x="418.0" y="159.1" font-size="8.2" fill="#111" stroke="#111" stroke-width="0.35">2</text>
<text x="449.9" y="162.7" font-size="10" fill="#111" stroke="#111" stroke-width="0.35" textLength="10.2" lengthAdjust="spacingAndGlyphs">10</text>
<text x="459.79999999999995" y="159.1" font-size="8.2" fill="#111" stroke="#111" stroke-width="0.35">3</text>
<line x1="332.3" y1="23.5" x2="336" y2="23.5" stroke="#444" stroke-width="1"/>
<text transform="translate(302.4,82) rotate(-90)" font-size="10.8" text-anchor="middle" fill="#111" stroke="#111" stroke-width="0.35">Counts</text>
<text x="357" y="35.3" font-size="9.8" font-weight="bold" fill="#111" stroke="#111" stroke-width="0.35">Resting</text>
<text x="445.5" y="43.6" font-size="9.5" font-weight="bold" fill="#111" stroke="#111" stroke-width="0.35">ADP</text>
<text x="377.5" y="50.9" font-size="9.6" fill="#111" stroke="#111" stroke-width="0.35">Exposed</text>
<text x="343.0" y="60.9" font-size="9.75" fill="#111" stroke="#111" stroke-width="0.35">Control</text>
<text x="422.2" y="77.2" font-size="9.9" fill="#111" stroke="#111" stroke-width="0.35">Exposed</text>
<text x="431.4" y="98.5" font-size="9.8" fill="#111" stroke="#111" stroke-width="0.35">Control</text>
<text x="336.8" y="177.9" font-size="9.58" fill="#111" stroke="#111" stroke-width="0.35">Fluorescence Intensity (log scale)</text>
<line x1="351.7" y1="70.7" x2="363.5" y2="88" stroke="#222" stroke-width="0.8"/>
<path d="M367.1,93.3 L358,86.5 L363.9,88.2 L364.2,82.5 Z" fill="#000" stroke="#000" stroke-width="0.5" stroke-linejoin="round"/>
<path d="M375.8,70.7 L377.7,57.5 L379.7,62.7 L384.6,61.1 Z" fill="#000" stroke="#000" stroke-width="0.5" stroke-linejoin="round"/>
<line x1="429" y1="81.7" x2="417.6" y2="91.4" stroke="#222" stroke-width="0.8"/>
<path d="M410.9,96.9 L417.6,86.2 L417.8,91.6 L422.5,92.6 Z" fill="#000" stroke="#000" stroke-width="0.5" stroke-linejoin="round"/>
<line x1="428" y1="99.2" x2="414.3" y2="111.4" stroke="#222" stroke-width="0.8"/>
<path d="M407.1,116.8 L413.8,106.2 L414.4,111.6 L418.2,112.5 Z" fill="#000" stroke="#000" stroke-width="0.5" stroke-linejoin="round"/>
<text x="2.0" y="216.2" font-size="15.5" font-weight="bold" fill="#000" stroke="#000" stroke-width="0.35">C</text>
<rect x="44.9" y="218.8" width="123.9" height="15.5" fill="#000"/>
<rect x="45.4" y="236.5" width="71.30000000000001" height="13.800000000000011" fill="#fff" stroke="#666" stroke-width="1"/>
<rect x="44.9" y="262.5" width="80.1" height="15.0" fill="#000"/>
<rect x="45.4" y="279.3" width="38.699999999999996" height="14.0" fill="#fff" stroke="#666" stroke-width="1"/>
<line x1="168.8" y1="226.5" x2="196.3" y2="226.5" stroke="#555" stroke-width="0.9"/>
<line x1="196.3" y1="222.5" x2="196.3" y2="230.5" stroke="#555" stroke-width="1"/>
<line x1="117.2" y1="243.4" x2="118.3" y2="243.4" stroke="#555" stroke-width="0.9"/>
<line x1="118.3" y1="239.9" x2="118.3" y2="246.9" stroke="#555" stroke-width="1"/>
<line x1="125" y1="270" x2="132.6" y2="270" stroke="#555" stroke-width="0.9"/>
<line x1="132.6" y1="265.7" x2="132.6" y2="274.3" stroke="#555" stroke-width="1"/>
<line x1="84.6" y1="286.3" x2="85.8" y2="286.3" stroke="#555" stroke-width="0.9"/>
<line x1="85.8" y1="282.8" x2="85.8" y2="289.8" stroke="#555" stroke-width="1"/>
<line x1="44.7" y1="309.2" x2="223.3" y2="309.2" stroke="#7a7a7a" stroke-width="1.5"/>
<line x1="44.7" y1="304.7" x2="44.7" y2="309.7" stroke="#666" stroke-width="1"/>
<line x1="80.4" y1="304.7" x2="80.4" y2="309.7" stroke="#666" stroke-width="1"/>
<line x1="115.5" y1="304.7" x2="115.5" y2="309.7" stroke="#666" stroke-width="1"/>
<line x1="151.5" y1="304.7" x2="151.5" y2="309.7" stroke="#666" stroke-width="1"/>
<line x1="187.2" y1="304.7" x2="187.2" y2="309.7" stroke="#666" stroke-width="1"/>
<line x1="223.3" y1="304.7" x2="223.3" y2="309.7" stroke="#666" stroke-width="1"/>
<text x="47.1" y="320.4" font-size="10.3" text-anchor="middle" fill="#111" stroke="#111" stroke-width="0.35">0</text>
<text x="82.3" y="320.4" font-size="10.3" text-anchor="middle" fill="#111" stroke="#111" stroke-width="0.35">50</text>
<text x="117.3" y="320.4" font-size="10.3" text-anchor="middle" fill="#111" stroke="#111" stroke-width="0.35">100</text>
<text x="153.3" y="320.4" font-size="10.3" text-anchor="middle" fill="#111" stroke="#111" stroke-width="0.35">150</text>
<text x="187.9" y="320.4" font-size="10.3" text-anchor="middle" fill="#111" stroke="#111" stroke-width="0.35">200</text>
<text x="224.4" y="320.4" font-size="10.3" text-anchor="middle" fill="#111" stroke="#111" stroke-width="0.35">250</text>
<text x="62.2" y="339.9" font-size="11.55" fill="#111" stroke="#111" stroke-width="0.35">Mean fluorescence intensity</text>
<text x="204.6" y="234.8" font-size="17" font-weight="bold" fill="#000" stroke="#000" stroke-width="0.35">*</text>
<rect x="161.7" y="273.0" width="8.5" height="8" fill="#fff" stroke="#8a8a8a" stroke-width="1"/>
<rect x="161.2" y="284.5" width="9.5" height="9" fill="#000"/>
<text x="176.2" y="280.8" font-size="10.5" fill="#111" stroke="#111" stroke-width="0.35" textLength="32" lengthAdjust="spacingAndGlyphs">Control</text>
<text x="176.2" y="293" font-size="10.7" fill="#111" stroke="#111" stroke-width="0.35" textLength="38.6" lengthAdjust="spacingAndGlyphs">Exposed</text>
<text transform="translate(21.6,247.6) rotate(-45)" font-size="11" text-anchor="middle" fill="#111" stroke="#111" stroke-width="0.35">Activated</text>
<text transform="translate(23.0,292.0) rotate(-45)" font-size="11" text-anchor="middle" fill="#111" stroke="#111" stroke-width="0.35">Resting</text>
<text x="284.6" y="216.3" font-size="15.5" font-weight="bold" fill="#000" stroke="#000" stroke-width="0.35" textLength="12.2" lengthAdjust="spacingAndGlyphs">D</text>
<rect x="335.4" y="221" width="130.60000000000002" height="14" fill="#000"/>
<rect x="335.9" y="237.9" width="81.20000000000005" height="13.599999999999994" fill="#fff" stroke="#666" stroke-width="1"/>
<rect x="335.4" y="265" width="59.700000000000045" height="14" fill="#000"/>
<rect x="335.9" y="281.3" width="55.80000000000001" height="13.399999999999977" fill="#fff" stroke="#666" stroke-width="1"/>
<line x1="466" y1="227.8" x2="474.4" y2="227.8" stroke="#555" stroke-width="0.9"/>
<line x1="474.4" y1="223.8" x2="474.4" y2="231.8" stroke="#555" stroke-width="1"/>
<line x1="417.6" y1="245.2" x2="425.4" y2="245.2" stroke="#555" stroke-width="0.9"/>
<line x1="425.4" y1="240.89999999999998" x2="425.4" y2="249.5" stroke="#555" stroke-width="1"/>
<line x1="395.1" y1="272" x2="399.4" y2="272" stroke="#555" stroke-width="0.9"/>
<line x1="399.4" y1="268" x2="399.4" y2="276" stroke="#555" stroke-width="1"/>
<line x1="392.2" y1="288" x2="394.8" y2="288" stroke="#555" stroke-width="0.9"/>
<line x1="394.8" y1="284.5" x2="394.8" y2="291.5" stroke="#555" stroke-width="1"/>
<line x1="335.4" y1="311.4" x2="517.4" y2="311.4" stroke="#7a7a7a" stroke-width="1.5"/>
<line x1="335.4" y1="306.9" x2="335.4" y2="311.9" stroke="#666" stroke-width="1"/>
<line x1="381.3" y1="306.9" x2="381.3" y2="311.9" stroke="#666" stroke-width="1"/>
<line x1="426.7" y1="306.9" x2="426.7" y2="311.9" stroke="#666" stroke-width="1"/>
<line x1="472.3" y1="306.9" x2="472.3" y2="311.9" stroke="#666" stroke-width="1"/>
<line x1="517.4" y1="306.9" x2="517.4" y2="311.9" stroke="#666" stroke-width="1"/>
<text x="337.7" y="321.0" font-size="10.0" text-anchor="middle" fill="#111" stroke="#111" stroke-width="0.35">0</text>
<text x="382.2" y="321.0" font-size="10.0" text-anchor="middle" fill="#111" stroke="#111" stroke-width="0.35">20</text>
<text x="427.8" y="321.0" font-size="10.0" text-anchor="middle" fill="#111" stroke="#111" stroke-width="0.35">40</text>
<text x="472.9" y="321.0" font-size="10.0" text-anchor="middle" fill="#111" stroke="#111" stroke-width="0.35">60</text>
<text x="513.1" y="321.0" font-size="10.0" text-anchor="middle" fill="#111" stroke="#111" stroke-width="0.35">80</text>
<text x="345.9" y="339.2" font-size="11.55" fill="#111" stroke="#111" stroke-width="0.35">Mean fluorescence intensity</text>
<text x="481.6" y="236" font-size="17" font-weight="bold" fill="#000" stroke="#000" stroke-width="0.35">*</text>
<rect x="444.9" y="270.4" width="8.5" height="8" fill="#fff" stroke="#8a8a8a" stroke-width="1"/>
<rect x="444.4" y="280.6" width="9.5" height="9" fill="#000"/>
<text x="458.7" y="277.8" font-size="10.5" fill="#111" stroke="#111" stroke-width="0.35" textLength="32" lengthAdjust="spacingAndGlyphs">Control</text>
<text x="458.7" y="288.6" font-size="10.7" fill="#111" stroke="#111" stroke-width="0.35" textLength="38.6" lengthAdjust="spacingAndGlyphs">Exposed</text>
<text transform="translate(315,251.5) rotate(-45)" font-size="11.5" text-anchor="middle" fill="#111" stroke="#111" stroke-width="0.35">Activated</text>
<text transform="translate(316.5,291.5) rotate(-45)" font-size="11.5" text-anchor="middle" fill="#111" stroke="#111" stroke-width="0.35">Resting</text>
<text x="0.4" y="365.4" font-size="15.5" font-weight="bold" fill="#000" stroke="#000" stroke-width="0.35" textLength="11.9" lengthAdjust="spacingAndGlyphs">E</text>
<text x="24.4" y="379.4" font-size="11.2" fill="#111" stroke="#111" stroke-width="0.35">0 min</text>
<text x="91.6" y="377.9" font-size="11.3" fill="#111" stroke="#111" stroke-width="0.35">30 min</text>
<text x="176.6" y="378.6" font-size="11.5" fill="#111" stroke="#111" stroke-width="0.35">60 min</text>
<text x="233.5" y="424.6" font-size="11.5" fill="#111" stroke="#111" stroke-width="0.35">Control</text>
<text x="233.5" y="495.6" font-size="11.4" fill="#111" stroke="#111" stroke-width="0.35">Exposed</text>
<defs><filter id="blur" x="-10%" y="-10%" width="120%" height="120%"><feGaussianBlur stdDeviation="0.6"/></filter></defs>
<rect x="4.7" y="384" width="69.2" height="63.3" fill="#000"/>
<clipPath id="c1"><rect x="4.7" y="384" width="69.2" height="63.3"/></clipPath>
<defs><linearGradient id="hl1" x1="0" y1="0" x2="0" y2="1"><stop offset="0" stop-color="#d0d0d0"/><stop offset="0.35" stop-color="#8a8a8a"/><stop offset="1" stop-color="#3a3a3a"/></linearGradient>
<linearGradient id="lq1" x1="0" y1="0" x2="0" y2="1"><stop offset="0" stop-color="#888"/><stop offset="1" stop-color="#6a6a6a"/></linearGradient></defs>
<g clip-path="url(#c1)"><g filter="url(#blur)">
<path d="M28.950000000000003,382 L28.950000000000003,428.55 A12.25,12.25 0 0 0 53.45,428.55 L53.45,382 Z" fill="#0b0b0b"/>
<path d="M29.750000000000004,418.5 L29.750000000000004,428.55 A11.45,11.45 0 0 0 52.650000000000006,428.55 L52.650000000000006,418.5 Z" fill="url(#lq1)"/>
<rect x="29.950000000000003" y="417.5" width="22.5" height="2.2" fill="#9a9a9a"/>
<rect x="30.450000000000003" y="418.0" width="7.35" height="2.5" fill="#c8c8c8"/>
<path d="M29.550000000000004,382 L29.550000000000004,428.55 A11.65,11.65 0 0 0 52.85,428.55 L52.85,382" fill="none" stroke="#6a6a6a" stroke-width="1.4"/>
<rect x="31.950000000000003" y="384" width="2.2" height="34.5" fill="url(#hl1)"/>
<rect x="47.85" y="384" width="2.0" height="34.5" fill="url(#hl1)" opacity="0.85"/>
<rect x="48.050000000000004" y="418.5" width="1.6" height="9.04500000000001" fill="#d5d5d5" opacity="0.75"/>
</g></g>
<rect x="82.3" y="384" width="68.5" height="63.3" fill="#000"/>
<clipPath id="c2"><rect x="82.3" y="384" width="68.5" height="63.3"/></clipPath>
<defs><linearGradient id="hl2" x1="0" y1="0" x2="0" y2="1"><stop offset="0" stop-color="#d0d0d0"/><stop offset="0.35" stop-color="#8a8a8a"/><stop offset="1" stop-color="#3a3a3a"/></linearGradient>
<linearGradient id="lq2" x1="0" y1="0" x2="0" y2="1"><stop offset="0" stop-color="#6a6a6a"/><stop offset="1" stop-color="#505050"/></linearGradient></defs>
<g clip-path="url(#c2)"><g filter="url(#blur)">
<path d="M106.2,382 L106.2,428.0 A12.5,12.5 0 0 0 131.2,428.0 L131.2,382 Z" fill="#0b0b0b"/>
<path d="M107.0,419 L107.0,428.0 A11.7,11.7 0 0 0 130.39999999999998,428.0 L130.39999999999998,419 Z" fill="url(#lq2)"/>
<rect x="107.2" y="418" width="23" height="2.2" fill="#9a9a9a"/>
<rect x="107.7" y="418.5" width="7.5" height="2.5" fill="#c8c8c8"/>
<path d="M106.8,382 L106.8,428.0 A11.9,11.9 0 0 0 130.6,428.0 L130.6,382" fill="none" stroke="#6a6a6a" stroke-width="1.4"/>
<rect x="109.2" y="384" width="2.2" height="35" fill="url(#hl2)"/>
<rect x="125.6" y="384" width="2.0" height="35" fill="url(#hl2)" opacity="0.85"/>
<rect x="125.79999999999998" y="419" width="1.6" height="8.1" fill="#d5d5d5" opacity="0.75"/>
</g></g>
<rect x="159.5" y="384" width="68.4" height="62.6" fill="#000"/>
<clipPath id="c3"><rect x="159.5" y="384" width="68.4" height="62.6"/></clipPath>
<defs><linearGradient id="hl3" x1="0" y1="0" x2="0" y2="1"><stop offset="0" stop-color="#d0d0d0"/><stop offset="0.35" stop-color="#8a8a8a"/><stop offset="1" stop-color="#3a3a3a"/></linearGradient>
<linearGradient id="lq3" x1="0" y1="0" x2="0" y2="1"><stop offset="0" stop-color="#303030"/><stop offset="1" stop-color="#262626"/></linearGradient></defs>
<g clip-path="url(#c3)"><g filter="url(#blur)">
<path d="M180.85,382 L180.85,429.75 A12.75,12.75 0 0 0 206.35,429.75 L206.35,382 Z" fill="#0b0b0b"/>
<path d="M181.65,419 L181.65,429.75 A11.95,11.95 0 0 0 205.54999999999998,429.75 L205.54999999999998,419 Z" fill="url(#lq3)"/>
<path d="M183.6,422 L200,422 A8.200000000000003,11 0 0 1 183.6,422 Z" fill="#a8a8a8"/>
<rect x="181.85" y="418" width="23.5" height="2.2" fill="#9a9a9a"/>
<rect x="182.35" y="418.5" width="7.6499999999999995" height="2.5" fill="#c8c8c8"/>
<path d="M181.45,382 L181.45,429.75 A12.15,12.15 0 0 0 205.75,429.75 L205.75,382" fill="none" stroke="#6a6a6a" stroke-width="1.4"/>
<rect x="183.85" y="384" width="2.2" height="35" fill="url(#hl3)"/>
<rect x="200.75" y="384" width="2.0" height="35" fill="url(#hl3)" opacity="0.85"/>
<rect x="200.95" y="419" width="1.6" height="9.675" fill="#d5d5d5" opacity="0.75"/>
</g></g>
<rect x="4.7" y="456.4" width="69.2" height="63.5" fill="#000"/>
<clipPath id="c4"><rect x="4.7" y="456.4" width="69.2" height="63.5"/></clipPath>
<defs><linearGradient id="hl4" x1="0" y1="0" x2="0" y2="1"><stop offset="0" stop-color="#d0d0d0"/><stop offset="0.35" stop-color="#8a8a8a"/><stop offset="1" stop-color="#3a3a3a"/></linearGradient>
<linearGradient id="lq4" x1="0" y1="0" x2="0" y2="1"><stop offset="0" stop-color="#929292"/><stop offset="1" stop-color="#737373"/></linearGradient></defs>
<g clip-path="url(#c4)"><g filter="url(#blur)">
<path d="M26.799999999999997,454.4 L26.799999999999997,501.29999999999995 A12.5,12.5 0 0 0 51.8,501.29999999999995 L51.8,454.4 Z" fill="#0b0b0b"/>
<path d="M27.599999999999998,494.5 L27.599999999999998,501.29999999999995 A11.7,11.7 0 0 0 51.0,501.29999999999995 L51.0,494.5 Z" fill="url(#lq4)"/>
<rect x="27.799999999999997" y="493.5" width="23" height="2.2" fill="#9a9a9a"/>
<rect x="28.299999999999997" y="494.0" width="7.5" height="2.5" fill="#c8c8c8"/>
<path d="M27.4,454.4 L27.4,501.29999999999995 A11.9,11.9 0 0 0 51.199999999999996,501.29999999999995 L51.199999999999996,454.4" fill="none" stroke="#6a6a6a" stroke-width="1.4"/>
<rect x="29.799999999999997" y="456.4" width="2.2" height="38.10000000000002" fill="url(#hl4)"/>
<rect x="46.199999999999996" y="456.4" width="2.0" height="38.10000000000002" fill="url(#hl4)" opacity="0.85"/>
<rect x="46.4" y="494.5" width="1.6" height="6.119999999999959" fill="#d5d5d5" opacity="0.75"/>
</g></g>
<rect x="82.3" y="456.4" width="68.5" height="63.6" fill="#000"/>
<clipPath id="c5"><rect x="82.3" y="456.4" width="68.5" height="63.6"/></clipPath>
<defs><linearGradient id="hl5" x1="0" y1="0" x2="0" y2="1"><stop offset="0" stop-color="#d0d0d0"/><stop offset="0.35" stop-color="#8a8a8a"/><stop offset="1" stop-color="#3a3a3a"/></linearGradient>
<linearGradient id="lq5" x1="0" y1="0" x2="0" y2="1"><stop offset="0" stop-color="#3c3c3c"/><stop offset="1" stop-color="#4c4c4c"/></linearGradient></defs>
<g clip-path="url(#c5)"><g filter="url(#blur)">
<path d="M105.3,454.4 L105.3,502.99999999999994 A12.8,12.8 0 0 0 130.9,502.99999999999994 L130.9,454.4 Z" fill="#0b0b0b"/>
<path d="M106.1,496 L106.1,502.99999999999994 A12.0,12.0 0 0 0 130.1,502.99999999999994 L130.1,496 Z" fill="url(#lq5)"/>
<rect x="106.3" y="495" width="23.6" height="2.2" fill="#9a9a9a"/>
<rect x="106.8" y="495.5" width="7.68" height="2.5" fill="#c8c8c8"/>
<path d="M105.89999999999999,454.4 L105.89999999999999,502.99999999999994 A12.200000000000001,12.200000000000001 0 0 0 130.3,502.99999999999994 L130.3,454.4" fill="none" stroke="#6a6a6a" stroke-width="1.4"/>
<rect x="108.3" y="456.4" width="2.2" height="39.60000000000002" fill="url(#hl5)"/>
<rect x="125.30000000000001" y="456.4" width="2.0" height="39.60000000000002" fill="url(#hl5)" opacity="0.85"/>
<rect x="125.5" y="496" width="1.6" height="6.299999999999949" fill="#d5d5d5" opacity="0.75"/>
</g></g>
<rect x="159.5" y="456.4" width="70.4" height="63.2" fill="#060606"/>
<clipPath id="c6"><rect x="159.5" y="456.4" width="70.4" height="63.2"/></clipPath>
<defs><linearGradient id="hl6" x1="0" y1="0" x2="0" y2="1"><stop offset="0" stop-color="#d0d0d0"/><stop offset="0.35" stop-color="#8a8a8a"/><stop offset="1" stop-color="#3a3a3a"/></linearGradient>
<linearGradient id="lq6" x1="0" y1="0" x2="0" y2="1"><stop offset="0" stop-color="#444"/><stop offset="1" stop-color="#3a3a3a"/></linearGradient></defs>
<g clip-path="url(#c6)"><g filter="url(#blur)">
<path d="M182.2,454.4 L182.2,497.7 A12.8,12.8 0 0 0 207.8,497.7 L207.8,454.4 Z" fill="#0b0b0b"/>
<path d="M183.0,486.5 L183.0,497.7 A12.0,12.0 0 0 0 207.0,497.7 L207.0,486.5 Z" fill="url(#lq6)"/>
<path d="M189.2,488.5 L203.8,488.5 A7.300000000000011,10.0 0 0 1 189.2,488.5 Z" fill="#bcbcbc"/>
<rect x="183.2" y="485.5" width="23.6" height="2.2" fill="#9a9a9a"/>
<rect x="183.7" y="486.0" width="7.68" height="2.5" fill="#c8c8c8"/>
<path d="M182.79999999999998,454.4 L182.79999999999998,497.7 A12.200000000000001,12.200000000000001 0 0 0 207.20000000000002,497.7 L207.20000000000002,454.4" fill="none" stroke="#6a6a6a" stroke-width="1.4"/>
<rect x="185.2" y="456.4" width="2.2" height="30.100000000000023" fill="url(#hl6)"/>
<rect x="202.20000000000002" y="456.4" width="2.0" height="30.100000000000023" fill="url(#hl6)" opacity="0.85"/>
<rect x="202.4" y="486.5" width="1.6" height="10.07999999999999" fill="#d5d5d5" opacity="0.75"/>
</g></g>
<text x="284.6" y="365" font-size="15.5" font-weight="bold" fill="#000" stroke="#000" stroke-width="0.35">F</text>
<line x1="340.8" y1="369.2" x2="340.8" y2="491.4" stroke="#555" stroke-width="1"/>
<line x1="340.8" y1="491.4" x2="501.6" y2="491.4" stroke="#555" stroke-width="1"/>
<text x="335.6" y="493.2" font-size="12.2" text-anchor="end" fill="#111" stroke="#111" stroke-width="0.35">0</text>
<line x1="340.8" y1="465.6" x2="348.8" y2="465.6" stroke="#555" stroke-width="1"/>
<text x="334.7" y="468.8" font-size="12.2" text-anchor="end" fill="#111" stroke="#111" stroke-width="0.35">20</text>
<line x1="340.8" y1="441.8" x2="348.8" y2="441.8" stroke="#555" stroke-width="1"/>
<text x="334.7" y="444.9" font-size="12.2" text-anchor="end" fill="#111" stroke="#111" stroke-width="0.35">40</text>
<line x1="340.8" y1="417.6" x2="348.8" y2="417.6" stroke="#555" stroke-width="1"/>
<text x="334.7" y="421.6" font-size="12.2" text-anchor="end" fill="#111" stroke="#111" stroke-width="0.35">60</text>
<line x1="340.8" y1="393.4" x2="348.8" y2="393.4" stroke="#555" stroke-width="1"/>
<text x="334.7" y="395.1" font-size="12.2" text-anchor="end" fill="#111" stroke="#111" stroke-width="0.35">80</text>
<line x1="340.8" y1="369.6" x2="348.8" y2="369.6" stroke="#555" stroke-width="1"/>
<text x="337" y="372.5" font-size="12.2" text-anchor="end" fill="#111" stroke="#111" stroke-width="0.35">100</text>
<line x1="420.4" y1="491.4" x2="420.4" y2="485.9" stroke="#555" stroke-width="1"/>
<line x1="501.4" y1="491.4" x2="501.4" y2="485.9" stroke="#555" stroke-width="1"/>
<text x="341.9" y="504.4" font-size="12.2" text-anchor="middle" fill="#111" stroke="#111" stroke-width="0.35">0</text>
<text x="421.8" y="504.8" font-size="12.2" text-anchor="middle" fill="#111" stroke="#111" stroke-width="0.35">30</text>
<text x="501.2" y="504.2" font-size="12.2" text-anchor="middle" fill="#111" stroke="#111" stroke-width="0.35">60</text>
<text x="355.3" y="522.6" font-size="12.4" fill="#111" stroke="#111" stroke-width="0.35">Incubation time (minutes)</text>
<text transform="translate(311.3,430.2) rotate(-90)" font-size="12.4" text-anchor="middle" fill="#111" stroke="#111" stroke-width="0.35">% Retraction of Clot</text>
<polyline points="340.8,491.4 419.4,447 498.5,403.2" fill="none" stroke="#555" stroke-width="0.9"/>
<polyline points="340.8,491.4 419.9,476.7 498.5,425.9" fill="none" stroke="#555" stroke-width="0.9"/>
<line x1="419.6" y1="439" x2="419.6" y2="455" stroke="#555" stroke-width="1"/>
<line x1="415.8" y1="439" x2="423.40000000000003" y2="439" stroke="#555" stroke-width="1"/>
<line x1="415.8" y1="455" x2="423.40000000000003" y2="455" stroke="#555" stroke-width="1"/>
<line x1="419.9" y1="469.2" x2="419.9" y2="484.1" stroke="#555" stroke-width="1"/>
<line x1="416.09999999999997" y1="469.2" x2="423.7" y2="469.2" stroke="#555" stroke-width="1"/>
<line x1="416.09999999999997" y1="484.1" x2="423.7" y2="484.1" stroke="#555" stroke-width="1"/>
<line x1="498.5" y1="394.6" x2="498.5" y2="409.4" stroke="#555" stroke-width="1"/>
<line x1="494.7" y1="394.6" x2="502.3" y2="394.6" stroke="#555" stroke-width="1"/>
<line x1="494.7" y1="409.4" x2="502.3" y2="409.4" stroke="#555" stroke-width="1"/>
<line x1="498.5" y1="418" x2="498.5" y2="433" stroke="#555" stroke-width="1"/>
<line x1="494.7" y1="418" x2="502.3" y2="418" stroke="#555" stroke-width="1"/>
<line x1="494.7" y1="433" x2="502.3" y2="433" stroke="#555" stroke-width="1"/>
<circle cx="419.4" cy="447" r="4.5" fill="#000"/>
<circle cx="419.9" cy="476.7" r="4.3" fill="#fff" stroke="#444" stroke-width="1"/>
<circle cx="498.5" cy="403.2" r="4.5" fill="#000"/>
<circle cx="498.5" cy="425.9" r="4.3" fill="#fff" stroke="#444" stroke-width="1"/>
<text x="411.2" y="437.3" font-size="18" font-weight="bold" fill="#000" stroke="#000" stroke-width="0.35" letter-spacing="2">**</text>
<text x="494" y="395.1" font-size="18" font-weight="bold" fill="#000" stroke="#000" stroke-width="0.35">*</text>
<circle cx="370" cy="373.8" r="4.4" fill="#fff" stroke="#444" stroke-width="1"/>
<circle cx="370.2" cy="390.3" r="4.8" fill="#000"/>
<text x="380" y="376.5" font-size="11.3" fill="#111" stroke="#111" stroke-width="0.35">Control</text>
<text x="381.2" y="393.8" font-size="11.5" fill="#111" stroke="#111" stroke-width="0.35">Exposed</text>
</g>
</svg>
</body></html>
